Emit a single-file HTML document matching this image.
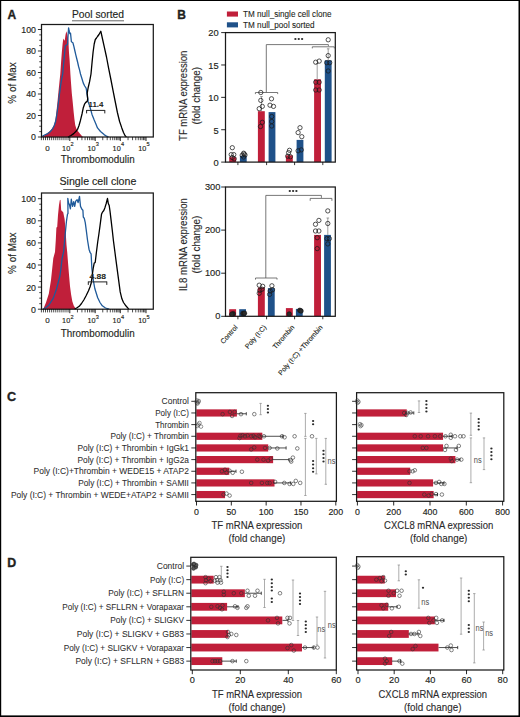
<!DOCTYPE html>
<html><head><meta charset="utf-8"><style>
html,body{margin:0;padding:0;background:#fff;width:520px;height:717px;overflow:hidden}
svg{display:block}
text{font-family:"Liberation Sans",sans-serif;fill:#231f20;stroke:#231f20;stroke-width:0.15px}
</style></head><body>
<svg width="520" height="717" viewBox="0 0 520 717">
<rect x="0" y="0" width="520" height="717" fill="#fff"/>
<text x="7.6" y="18.8" font-size="12" font-weight="bold" style="stroke-width:0.35px">A</text>
<text x="7.1" y="400.8" font-size="12.7" font-weight="bold" style="stroke-width:0.35px">C</text>
<text x="7.2" y="567.4" font-size="12.4" font-weight="bold" style="stroke-width:0.35px">D</text>
<text x="177.3" y="18.8" font-size="12" font-weight="bold" style="stroke-width:0.35px">B</text>
<text x="72" y="18.4" font-size="10.8" textLength="52" lengthAdjust="spacingAndGlyphs">Pool sorted</text>
<line x1="72" y1="20.8" x2="124" y2="20.8" stroke="#555" stroke-width="0.9"/>
<polyline points="42,137 44.5,135.2 47.8,132.7 50.5,130.5 52.6,127.8 54.2,124.5 55.5,119.2 56.5,111 57.4,102.8 58.1,95.5 58.8,88.4 59.6,80.5 60.3,74 61.1,62 61.8,52.8 62.6,44 63.3,38.4 64,39.8 64.7,40.8 65.5,35 66.3,31.2 67.2,34 68.1,38.4 68.6,45 69,52.8 69.6,60 70.4,74 71.1,84 71.8,93.2 72.8,103 73.7,112.5 74.4,119 75.2,125 76.3,128.5 77.6,130.7 80,133.8 82.4,136.5 84,137.2" fill="#c01f3a"/>
<polyline points="42,136.5 44.5,135 47.8,133.6 50.5,131.4 52.6,128.8 54.2,125.8 55.5,122 56.5,116.5 57.4,110.5 58.4,103 59.3,95.2 60.3,88 61.2,81.7 62,77.5 62.7,74 63.5,65 64.2,57.7 64.8,51 65.4,45.6 66.5,45 67.6,44.2 68.1,35 68.6,27.8 69.2,31 69.8,33.6 70.5,33.1 71.4,41.8 72.9,42.75 73.8,46.1 74.8,50.5 75.8,54.8 76.7,58.5 77.7,62.5 78.6,66.5 79.6,70.2 80.5,74 81.9,78.5 83.3,83.1 84.7,86 86.2,88.4 87.2,95.2 88.2,101.9 89.6,105.7 90.8,110 92,114.4 94,119.5 95.8,123.8 97.5,127.9 100.5,131.5 104.1,134.6 106.5,136.2 108.6,137" fill="none" stroke="#1f5a9a" stroke-width="1.3" stroke-linejoin="round"/>
<polyline points="68,137.1 71,135.5 73.7,133.6 75.8,131.5 77.6,129.3 79,125.5 80.5,120.2 82,114 83.3,107.7 84.5,104.2 85.75,102.4 87.2,101.4 87.7,99 87.4,95.5 87.2,93.2 88.2,87.5 89.6,81.7 91,74 92.1,62 93.1,52 94.2,44 95.3,39.5 96.5,38 97.5,36.5 99,34.5 100.8,31.2 102.3,38 104.1,46.1 106.5,57 108.6,68.2 110.8,79 113,90.3 115.2,101.5 117.4,112.5 119.6,121.5 121.8,127.9 123.5,132.5 125.1,135.7 126.5,137.1" fill="none" stroke="#000" stroke-width="1.3" stroke-linejoin="round"/>
<rect x="41.5" y="24.5" width="111.8" height="112.5" fill="none" stroke="#1a1a1a" stroke-width="1.25"/>
<line x1="37.9" y1="137" x2="41.5" y2="137" stroke="#000" stroke-width="0.8"/>
<text x="36" y="140" font-size="8.8" text-anchor="end">0</text>
<line x1="39.2" y1="131.62" x2="41.5" y2="131.62" stroke="#000" stroke-width="0.7"/>
<line x1="39.2" y1="126.25" x2="41.5" y2="126.25" stroke="#000" stroke-width="0.7"/>
<line x1="39.2" y1="120.88" x2="41.5" y2="120.88" stroke="#000" stroke-width="0.7"/>
<line x1="37.9" y1="115.5" x2="41.5" y2="115.5" stroke="#000" stroke-width="0.8"/>
<text x="36" y="118.5" font-size="8.8" text-anchor="end">20</text>
<line x1="39.2" y1="110.12" x2="41.5" y2="110.12" stroke="#000" stroke-width="0.7"/>
<line x1="39.2" y1="104.75" x2="41.5" y2="104.75" stroke="#000" stroke-width="0.7"/>
<line x1="39.2" y1="99.38" x2="41.5" y2="99.38" stroke="#000" stroke-width="0.7"/>
<line x1="37.9" y1="94" x2="41.5" y2="94" stroke="#000" stroke-width="0.8"/>
<text x="36" y="97" font-size="8.8" text-anchor="end">40</text>
<line x1="39.2" y1="88.62" x2="41.5" y2="88.62" stroke="#000" stroke-width="0.7"/>
<line x1="39.2" y1="83.25" x2="41.5" y2="83.25" stroke="#000" stroke-width="0.7"/>
<line x1="39.2" y1="77.88" x2="41.5" y2="77.88" stroke="#000" stroke-width="0.7"/>
<line x1="37.9" y1="72.5" x2="41.5" y2="72.5" stroke="#000" stroke-width="0.8"/>
<text x="36" y="75.5" font-size="8.8" text-anchor="end">60</text>
<line x1="39.2" y1="67.12" x2="41.5" y2="67.12" stroke="#000" stroke-width="0.7"/>
<line x1="39.2" y1="61.75" x2="41.5" y2="61.75" stroke="#000" stroke-width="0.7"/>
<line x1="39.2" y1="56.38" x2="41.5" y2="56.38" stroke="#000" stroke-width="0.7"/>
<line x1="37.9" y1="51" x2="41.5" y2="51" stroke="#000" stroke-width="0.8"/>
<text x="36" y="54" font-size="8.8" text-anchor="end">80</text>
<line x1="39.2" y1="45.62" x2="41.5" y2="45.62" stroke="#000" stroke-width="0.7"/>
<line x1="39.2" y1="40.25" x2="41.5" y2="40.25" stroke="#000" stroke-width="0.7"/>
<line x1="39.2" y1="34.88" x2="41.5" y2="34.88" stroke="#000" stroke-width="0.7"/>
<line x1="37.9" y1="29.5" x2="41.5" y2="29.5" stroke="#000" stroke-width="0.8"/>
<text x="36" y="32.5" font-size="8.8" text-anchor="end">100</text>
<line x1="41.4" y1="137" x2="41.4" y2="140.2" stroke="#000" stroke-width="0.7"/>
<line x1="43.45" y1="137" x2="43.45" y2="140.2" stroke="#000" stroke-width="0.7"/>
<line x1="45.5" y1="137" x2="45.5" y2="140.2" stroke="#000" stroke-width="0.7"/>
<line x1="47.55" y1="137" x2="47.55" y2="140.2" stroke="#000" stroke-width="0.7"/>
<line x1="49.6" y1="137" x2="49.6" y2="140.2" stroke="#000" stroke-width="0.7"/>
<line x1="51.65" y1="137" x2="51.65" y2="140.2" stroke="#000" stroke-width="0.7"/>
<line x1="53.7" y1="137" x2="53.7" y2="140.2" stroke="#000" stroke-width="0.7"/>
<line x1="55.75" y1="137" x2="55.75" y2="140.2" stroke="#000" stroke-width="0.7"/>
<line x1="57.8" y1="137" x2="57.8" y2="140.2" stroke="#000" stroke-width="0.7"/>
<line x1="59.85" y1="137" x2="59.85" y2="140.2" stroke="#000" stroke-width="0.7"/>
<line x1="61.9" y1="137" x2="61.9" y2="140.2" stroke="#000" stroke-width="0.7"/>
<line x1="63.95" y1="137" x2="63.95" y2="140.2" stroke="#000" stroke-width="0.7"/>
<line x1="66" y1="137" x2="66" y2="140.2" stroke="#000" stroke-width="0.7"/>
<line x1="68.05" y1="137" x2="68.05" y2="140.2" stroke="#000" stroke-width="0.7"/>
<line x1="77.45" y1="137" x2="77.45" y2="140.2" stroke="#000" stroke-width="0.7"/>
<line x1="81.92" y1="137" x2="81.92" y2="140.2" stroke="#000" stroke-width="0.7"/>
<line x1="85.09" y1="137" x2="85.09" y2="140.2" stroke="#000" stroke-width="0.7"/>
<line x1="87.55" y1="137" x2="87.55" y2="140.2" stroke="#000" stroke-width="0.7"/>
<line x1="89.57" y1="137" x2="89.57" y2="140.2" stroke="#000" stroke-width="0.7"/>
<line x1="91.27" y1="137" x2="91.27" y2="140.2" stroke="#000" stroke-width="0.7"/>
<line x1="92.74" y1="137" x2="92.74" y2="140.2" stroke="#000" stroke-width="0.7"/>
<line x1="94.04" y1="137" x2="94.04" y2="140.2" stroke="#000" stroke-width="0.7"/>
<line x1="102.76" y1="137" x2="102.76" y2="140.2" stroke="#000" stroke-width="0.7"/>
<line x1="107.18" y1="137" x2="107.18" y2="140.2" stroke="#000" stroke-width="0.7"/>
<line x1="110.31" y1="137" x2="110.31" y2="140.2" stroke="#000" stroke-width="0.7"/>
<line x1="112.74" y1="137" x2="112.74" y2="140.2" stroke="#000" stroke-width="0.7"/>
<line x1="114.73" y1="137" x2="114.73" y2="140.2" stroke="#000" stroke-width="0.7"/>
<line x1="116.41" y1="137" x2="116.41" y2="140.2" stroke="#000" stroke-width="0.7"/>
<line x1="117.87" y1="137" x2="117.87" y2="140.2" stroke="#000" stroke-width="0.7"/>
<line x1="119.15" y1="137" x2="119.15" y2="140.2" stroke="#000" stroke-width="0.7"/>
<line x1="128.04" y1="137" x2="128.04" y2="140.2" stroke="#000" stroke-width="0.7"/>
<line x1="132.56" y1="137" x2="132.56" y2="140.2" stroke="#000" stroke-width="0.7"/>
<line x1="135.77" y1="137" x2="135.77" y2="140.2" stroke="#000" stroke-width="0.7"/>
<line x1="138.26" y1="137" x2="138.26" y2="140.2" stroke="#000" stroke-width="0.7"/>
<line x1="140.3" y1="137" x2="140.3" y2="140.2" stroke="#000" stroke-width="0.7"/>
<line x1="142.02" y1="137" x2="142.02" y2="140.2" stroke="#000" stroke-width="0.7"/>
<line x1="143.51" y1="137" x2="143.51" y2="140.2" stroke="#000" stroke-width="0.7"/>
<line x1="144.82" y1="137" x2="144.82" y2="140.2" stroke="#000" stroke-width="0.7"/>
<line x1="69.8" y1="137" x2="69.8" y2="141" stroke="#000" stroke-width="0.85"/>
<line x1="95.2" y1="137" x2="95.2" y2="141" stroke="#000" stroke-width="0.85"/>
<line x1="120.3" y1="137" x2="120.3" y2="141" stroke="#000" stroke-width="0.85"/>
<line x1="146" y1="137" x2="146" y2="141" stroke="#000" stroke-width="0.85"/>
<text x="47.5" y="150.8" font-size="8" text-anchor="middle">0</text>
<text x="70.2" y="150.8" font-size="7.8" text-anchor="end" textLength="8.1" lengthAdjust="spacingAndGlyphs">10</text>
<text x="70.4" y="146.1" font-size="5.6">2</text>
<text x="95.6" y="150.8" font-size="7.8" text-anchor="end" textLength="8.1" lengthAdjust="spacingAndGlyphs">10</text>
<text x="95.8" y="146.1" font-size="5.6">3</text>
<text x="120.7" y="150.8" font-size="7.8" text-anchor="end" textLength="8.1" lengthAdjust="spacingAndGlyphs">10</text>
<text x="120.9" y="146.1" font-size="5.6">4</text>
<text x="146.4" y="150.8" font-size="7.8" text-anchor="end" textLength="8.1" lengthAdjust="spacingAndGlyphs">10</text>
<text x="146.6" y="146.1" font-size="5.6">5</text>
<text x="60.8" y="163.4" font-size="10.8" textLength="73.8" lengthAdjust="spacingAndGlyphs">Thrombomodulin</text>
<text x="16.3" y="83" font-size="10.4" text-anchor="middle" textLength="41.4" lengthAdjust="spacingAndGlyphs" transform="rotate(-90 16.3 83)">% of Max</text>
<line x1="86.6" y1="110.4" x2="104.8" y2="110.4" stroke="#222" stroke-width="1"/>
<line x1="86.6" y1="110" x2="86.6" y2="113.4" stroke="#222" stroke-width="1"/>
<line x1="104.8" y1="110" x2="104.8" y2="113.4" stroke="#222" stroke-width="1"/>
<text x="95.9" y="107.1" font-size="7.9" text-anchor="middle" font-weight="bold" textLength="14.9" lengthAdjust="spacingAndGlyphs" style="stroke-width:0.05px">11.4</text>
<text x="59.5" y="185" font-size="10.8" textLength="76.8" lengthAdjust="spacingAndGlyphs">Single cell clone</text>
<line x1="63.2" y1="189.5" x2="132.6" y2="189.5" stroke="#555" stroke-width="0.9"/>
<polyline points="43.3,309 46,302.5 48.8,293.7 51,280 53.3,258.3 55,252 55.8,240 56.4,227.6 57.2,227.1 58,215 59,205 59.8,200.2 60.5,199.7 61.2,210.3 62.2,211.2 63.2,212.2 64.6,218.9 65.6,230.5 66.5,244.9 67.2,252 68.3,266 69.2,277 70,286.2 71.1,294.5 72.3,301.2 73.7,305.5 75.2,308 76.5,309.2" fill="#c01f3a"/>
<polyline points="43.3,309 46,307.5 49,305 53.3,298.1 56.5,289 59.9,276 61,268 62.1,258.3 63.6,252 65.1,235.3 66.5,220.8 67.5,214.1 68,213.5 67.8,198.3 68.6,203 69.4,204.5 70.4,208.8 71.3,199.2 72,203.5 72.6,206.4 73.7,201.6 74.7,206.4 75.7,201.1 77.1,199.7 78.1,202.6 79.5,196.3 80.5,206.4 81.9,209.3 82.9,210.3 83.3,217 84.3,218.4 85.3,222.8 86.5,232 87.5,240 89,249.2 90.2,252.7 91.1,253.8 91.9,268.8 93.1,279.2 94.8,288.5 97.7,297.7 100,302.5 102.3,305.8 105.5,308 109.2,309.1" fill="none" stroke="#1f5a9a" stroke-width="1.3" stroke-linejoin="round"/>
<polyline points="74.6,309.1 77,307.8 79.2,306.3 81.5,303.5 83.8,300 86.2,295.5 88.5,290.8 90,287 91.3,282.7 92.5,273.5 93.1,268.8 94.2,263.1 95.2,262.5 96.5,251.5 97.7,242 98.9,234 100,225.8 101.5,214.3 102.3,212.4 103.8,210.5 105,207.4 106.2,203.5 107.5,198.5 108.3,203.5 109.2,205.5 110,211.2 111.2,221.2 112.3,230.5 113.5,241.2 115.6,257.3 117.9,274.6 120.2,291.9 121.9,298.8 123.5,302.5 125.4,305.2 128.8,309.1" fill="none" stroke="#000" stroke-width="1.3" stroke-linejoin="round"/>
<rect x="41.5" y="193.0" width="111.8" height="116.2" fill="none" stroke="#1a1a1a" stroke-width="1.25"/>
<line x1="37.9" y1="309.2" x2="41.5" y2="309.2" stroke="#000" stroke-width="0.8"/>
<text x="36" y="312.7" font-size="8.8" text-anchor="end">0</text>
<line x1="39.2" y1="303.68" x2="41.5" y2="303.68" stroke="#000" stroke-width="0.7"/>
<line x1="39.2" y1="298.15" x2="41.5" y2="298.15" stroke="#000" stroke-width="0.7"/>
<line x1="39.2" y1="292.62" x2="41.5" y2="292.62" stroke="#000" stroke-width="0.7"/>
<line x1="37.9" y1="287.1" x2="41.5" y2="287.1" stroke="#000" stroke-width="0.8"/>
<text x="36" y="290.6" font-size="8.8" text-anchor="end">20</text>
<line x1="39.2" y1="281.57" x2="41.5" y2="281.57" stroke="#000" stroke-width="0.7"/>
<line x1="39.2" y1="276.05" x2="41.5" y2="276.05" stroke="#000" stroke-width="0.7"/>
<line x1="39.2" y1="270.52" x2="41.5" y2="270.52" stroke="#000" stroke-width="0.7"/>
<line x1="37.9" y1="265" x2="41.5" y2="265" stroke="#000" stroke-width="0.8"/>
<text x="36" y="268.5" font-size="8.8" text-anchor="end">40</text>
<line x1="39.2" y1="259.47" x2="41.5" y2="259.47" stroke="#000" stroke-width="0.7"/>
<line x1="39.2" y1="253.95" x2="41.5" y2="253.95" stroke="#000" stroke-width="0.7"/>
<line x1="39.2" y1="248.42" x2="41.5" y2="248.42" stroke="#000" stroke-width="0.7"/>
<line x1="37.9" y1="242.9" x2="41.5" y2="242.9" stroke="#000" stroke-width="0.8"/>
<text x="36" y="246.4" font-size="8.8" text-anchor="end">60</text>
<line x1="39.2" y1="237.38" x2="41.5" y2="237.38" stroke="#000" stroke-width="0.7"/>
<line x1="39.2" y1="231.85" x2="41.5" y2="231.85" stroke="#000" stroke-width="0.7"/>
<line x1="39.2" y1="226.32" x2="41.5" y2="226.32" stroke="#000" stroke-width="0.7"/>
<line x1="37.9" y1="220.8" x2="41.5" y2="220.8" stroke="#000" stroke-width="0.8"/>
<text x="36" y="224.3" font-size="8.8" text-anchor="end">80</text>
<line x1="39.2" y1="215.27" x2="41.5" y2="215.27" stroke="#000" stroke-width="0.7"/>
<line x1="39.2" y1="209.75" x2="41.5" y2="209.75" stroke="#000" stroke-width="0.7"/>
<line x1="39.2" y1="204.22" x2="41.5" y2="204.22" stroke="#000" stroke-width="0.7"/>
<line x1="37.9" y1="198.7" x2="41.5" y2="198.7" stroke="#000" stroke-width="0.8"/>
<text x="36" y="202.2" font-size="8.8" text-anchor="end">100</text>
<line x1="41.4" y1="309.2" x2="41.4" y2="312.4" stroke="#000" stroke-width="0.7"/>
<line x1="43.45" y1="309.2" x2="43.45" y2="312.4" stroke="#000" stroke-width="0.7"/>
<line x1="45.5" y1="309.2" x2="45.5" y2="312.4" stroke="#000" stroke-width="0.7"/>
<line x1="47.55" y1="309.2" x2="47.55" y2="312.4" stroke="#000" stroke-width="0.7"/>
<line x1="49.6" y1="309.2" x2="49.6" y2="312.4" stroke="#000" stroke-width="0.7"/>
<line x1="51.65" y1="309.2" x2="51.65" y2="312.4" stroke="#000" stroke-width="0.7"/>
<line x1="53.7" y1="309.2" x2="53.7" y2="312.4" stroke="#000" stroke-width="0.7"/>
<line x1="55.75" y1="309.2" x2="55.75" y2="312.4" stroke="#000" stroke-width="0.7"/>
<line x1="57.8" y1="309.2" x2="57.8" y2="312.4" stroke="#000" stroke-width="0.7"/>
<line x1="59.85" y1="309.2" x2="59.85" y2="312.4" stroke="#000" stroke-width="0.7"/>
<line x1="61.9" y1="309.2" x2="61.9" y2="312.4" stroke="#000" stroke-width="0.7"/>
<line x1="63.95" y1="309.2" x2="63.95" y2="312.4" stroke="#000" stroke-width="0.7"/>
<line x1="66" y1="309.2" x2="66" y2="312.4" stroke="#000" stroke-width="0.7"/>
<line x1="68.05" y1="309.2" x2="68.05" y2="312.4" stroke="#000" stroke-width="0.7"/>
<line x1="77.45" y1="309.2" x2="77.45" y2="312.4" stroke="#000" stroke-width="0.7"/>
<line x1="81.92" y1="309.2" x2="81.92" y2="312.4" stroke="#000" stroke-width="0.7"/>
<line x1="85.09" y1="309.2" x2="85.09" y2="312.4" stroke="#000" stroke-width="0.7"/>
<line x1="87.55" y1="309.2" x2="87.55" y2="312.4" stroke="#000" stroke-width="0.7"/>
<line x1="89.57" y1="309.2" x2="89.57" y2="312.4" stroke="#000" stroke-width="0.7"/>
<line x1="91.27" y1="309.2" x2="91.27" y2="312.4" stroke="#000" stroke-width="0.7"/>
<line x1="92.74" y1="309.2" x2="92.74" y2="312.4" stroke="#000" stroke-width="0.7"/>
<line x1="94.04" y1="309.2" x2="94.04" y2="312.4" stroke="#000" stroke-width="0.7"/>
<line x1="102.76" y1="309.2" x2="102.76" y2="312.4" stroke="#000" stroke-width="0.7"/>
<line x1="107.18" y1="309.2" x2="107.18" y2="312.4" stroke="#000" stroke-width="0.7"/>
<line x1="110.31" y1="309.2" x2="110.31" y2="312.4" stroke="#000" stroke-width="0.7"/>
<line x1="112.74" y1="309.2" x2="112.74" y2="312.4" stroke="#000" stroke-width="0.7"/>
<line x1="114.73" y1="309.2" x2="114.73" y2="312.4" stroke="#000" stroke-width="0.7"/>
<line x1="116.41" y1="309.2" x2="116.41" y2="312.4" stroke="#000" stroke-width="0.7"/>
<line x1="117.87" y1="309.2" x2="117.87" y2="312.4" stroke="#000" stroke-width="0.7"/>
<line x1="119.15" y1="309.2" x2="119.15" y2="312.4" stroke="#000" stroke-width="0.7"/>
<line x1="128.04" y1="309.2" x2="128.04" y2="312.4" stroke="#000" stroke-width="0.7"/>
<line x1="132.56" y1="309.2" x2="132.56" y2="312.4" stroke="#000" stroke-width="0.7"/>
<line x1="135.77" y1="309.2" x2="135.77" y2="312.4" stroke="#000" stroke-width="0.7"/>
<line x1="138.26" y1="309.2" x2="138.26" y2="312.4" stroke="#000" stroke-width="0.7"/>
<line x1="140.3" y1="309.2" x2="140.3" y2="312.4" stroke="#000" stroke-width="0.7"/>
<line x1="142.02" y1="309.2" x2="142.02" y2="312.4" stroke="#000" stroke-width="0.7"/>
<line x1="143.51" y1="309.2" x2="143.51" y2="312.4" stroke="#000" stroke-width="0.7"/>
<line x1="144.82" y1="309.2" x2="144.82" y2="312.4" stroke="#000" stroke-width="0.7"/>
<line x1="69.8" y1="309.2" x2="69.8" y2="313.2" stroke="#000" stroke-width="0.85"/>
<line x1="95.2" y1="309.2" x2="95.2" y2="313.2" stroke="#000" stroke-width="0.85"/>
<line x1="120.3" y1="309.2" x2="120.3" y2="313.2" stroke="#000" stroke-width="0.85"/>
<line x1="146" y1="309.2" x2="146" y2="313.2" stroke="#000" stroke-width="0.85"/>
<text x="47.5" y="323.2" font-size="8" text-anchor="middle">0</text>
<text x="70.2" y="323.2" font-size="7.8" text-anchor="end" textLength="8.1" lengthAdjust="spacingAndGlyphs">10</text>
<text x="70.4" y="318.5" font-size="5.6">2</text>
<text x="95.6" y="323.2" font-size="7.8" text-anchor="end" textLength="8.1" lengthAdjust="spacingAndGlyphs">10</text>
<text x="95.8" y="318.5" font-size="5.6">3</text>
<text x="120.7" y="323.2" font-size="7.8" text-anchor="end" textLength="8.1" lengthAdjust="spacingAndGlyphs">10</text>
<text x="120.9" y="318.5" font-size="5.6">4</text>
<text x="146.4" y="323.2" font-size="7.8" text-anchor="end" textLength="8.1" lengthAdjust="spacingAndGlyphs">10</text>
<text x="146.6" y="318.5" font-size="5.6">5</text>
<text x="60.8" y="337.4" font-size="10.8" textLength="73.8" lengthAdjust="spacingAndGlyphs">Thrombomodulin</text>
<text x="16.3" y="253.19" font-size="10.4" text-anchor="middle" textLength="41.4" lengthAdjust="spacingAndGlyphs" transform="rotate(-90 16.3 253.19)">% of Max</text>
<line x1="88.3" y1="281.9" x2="106.8" y2="281.9" stroke="#222" stroke-width="1"/>
<line x1="88.3" y1="281.5" x2="88.3" y2="284.9" stroke="#222" stroke-width="1"/>
<line x1="106.8" y1="281.5" x2="106.8" y2="284.9" stroke="#222" stroke-width="1"/>
<text x="97.75" y="278.6" font-size="7.9" text-anchor="middle" font-weight="bold" textLength="16.6" lengthAdjust="spacingAndGlyphs" style="stroke-width:0.05px">4.88</text>
<rect x="226.9" y="11.5" width="11.1" height="5.1" fill="#c01f3a"/>
<rect x="226.9" y="22.3" width="11.1" height="5.1" fill="#1f5189"/>
<text x="243.1" y="16.8" font-size="8.9" textLength="88.4" lengthAdjust="spacingAndGlyphs" style="stroke-width:0.1px">TM null_single cell clone</text>
<text x="243.1" y="27.5" font-size="8.9" textLength="71.5" lengthAdjust="spacingAndGlyphs" style="stroke-width:0.1px">TM null_pool sorted</text>
<rect x="229.2" y="157.2" width="6.9" height="4.9" fill="#c01f3a"/>
<rect x="239.9" y="155.8" width="6.8" height="6.3" fill="#1f5189"/>
<rect x="257.9" y="111.2" width="6.9" height="50.9" fill="#c01f3a"/>
<rect x="268.6" y="112.1" width="6.8" height="50" fill="#1f5189"/>
<rect x="285.9" y="155.3" width="6.9" height="6.8" fill="#c01f3a"/>
<rect x="296.6" y="139.9" width="6.8" height="22.2" fill="#1f5189"/>
<rect x="314.1" y="79.3" width="6.9" height="82.8" fill="#c01f3a"/>
<rect x="324.8" y="60.3" width="6.8" height="101.8" fill="#1f5189"/>
<rect x="225.5" y="32.6" width="109.8" height="129.5" fill="none" stroke="#1a1a1a" stroke-width="1.25"/>
<line x1="221.2" y1="162.1" x2="225.5" y2="162.1" stroke="#000" stroke-width="0.85"/>
<text x="218.6" y="165.9" font-size="9.3" text-anchor="end">0</text>
<line x1="221.2" y1="129.72" x2="225.5" y2="129.72" stroke="#000" stroke-width="0.85"/>
<text x="218.6" y="133.53" font-size="9.3" text-anchor="end">5</text>
<line x1="221.2" y1="97.35" x2="225.5" y2="97.35" stroke="#000" stroke-width="0.85"/>
<text x="218.6" y="101.15" font-size="9.3" text-anchor="end">10</text>
<line x1="221.2" y1="64.97" x2="225.5" y2="64.97" stroke="#000" stroke-width="0.85"/>
<text x="218.6" y="68.77" font-size="9.3" text-anchor="end">15</text>
<line x1="221.2" y1="32.6" x2="225.5" y2="32.6" stroke="#000" stroke-width="0.85"/>
<text x="218.6" y="36.4" font-size="9.3" text-anchor="end">20</text>
<line x1="237.9" y1="162.1" x2="237.9" y2="165.1" stroke="#000" stroke-width="0.8"/>
<line x1="266.6" y1="162.1" x2="266.6" y2="165.1" stroke="#000" stroke-width="0.8"/>
<line x1="294.6" y1="162.1" x2="294.6" y2="165.1" stroke="#000" stroke-width="0.8"/>
<line x1="322.8" y1="162.1" x2="322.8" y2="165.1" stroke="#000" stroke-width="0.8"/>
<text x="186.9" y="95.8" font-size="10.6" text-anchor="middle" textLength="90.2" lengthAdjust="spacingAndGlyphs" style="fill:#2a2a2a;stroke:#2a2a2a;stroke-width:0.12px" transform="rotate(-90 186.9 95.8)">TF mRNA expression</text>
<text x="200" y="95.8" font-size="10.2" text-anchor="middle" textLength="57.6" lengthAdjust="spacingAndGlyphs" style="fill:#2a2a2a;stroke:#2a2a2a;stroke-width:0.12px" transform="rotate(-90 200 95.8)">(fold change)</text>
<rect x="229.2" y="309.2" width="6.9" height="7.1" fill="#c01f3a"/>
<rect x="239.2" y="309.2" width="6.8" height="7.1" fill="#1f5189"/>
<rect x="257.9" y="287.5" width="6.9" height="28.8" fill="#c01f3a"/>
<rect x="267.9" y="288.1" width="6.8" height="28.2" fill="#1f5189"/>
<rect x="285.9" y="308.1" width="6.9" height="8.2" fill="#c01f3a"/>
<rect x="295.9" y="308.9" width="6.8" height="7.4" fill="#1f5189"/>
<rect x="314.1" y="234.9" width="6.9" height="81.4" fill="#c01f3a"/>
<rect x="324.1" y="234.9" width="6.8" height="81.4" fill="#1f5189"/>
<rect x="225.5" y="187.0" width="109.8" height="129.3" fill="none" stroke="#1a1a1a" stroke-width="1.25"/>
<line x1="221.2" y1="316.3" x2="225.5" y2="316.3" stroke="#000" stroke-width="0.85"/>
<text x="220.4" y="319.4" font-size="9.3" text-anchor="end">0</text>
<line x1="221.2" y1="273.2" x2="225.5" y2="273.2" stroke="#000" stroke-width="0.85"/>
<text x="220.4" y="276.3" font-size="9.3" text-anchor="end">100</text>
<line x1="221.2" y1="230.1" x2="225.5" y2="230.1" stroke="#000" stroke-width="0.85"/>
<text x="220.4" y="233.2" font-size="9.3" text-anchor="end">200</text>
<line x1="221.2" y1="187" x2="225.5" y2="187" stroke="#000" stroke-width="0.85"/>
<text x="220.4" y="190.1" font-size="9.3" text-anchor="end">300</text>
<line x1="237.9" y1="316.3" x2="237.9" y2="319.3" stroke="#000" stroke-width="0.8"/>
<line x1="266.6" y1="316.3" x2="266.6" y2="319.3" stroke="#000" stroke-width="0.8"/>
<line x1="294.6" y1="316.3" x2="294.6" y2="319.3" stroke="#000" stroke-width="0.8"/>
<line x1="322.8" y1="316.3" x2="322.8" y2="319.3" stroke="#000" stroke-width="0.8"/>
<text x="186.9" y="244.6" font-size="10.6" text-anchor="middle" textLength="93" lengthAdjust="spacingAndGlyphs" style="fill:#2a2a2a;stroke:#2a2a2a;stroke-width:0.12px" transform="rotate(-90 186.9 244.6)">IL8 mRNA expression</text>
<text x="200" y="244.6" font-size="10.2" text-anchor="middle" textLength="57.6" lengthAdjust="spacingAndGlyphs" style="fill:#2a2a2a;stroke:#2a2a2a;stroke-width:0.12px" transform="rotate(-90 200 244.6)">(fold change)</text>
<text x="238.1" y="327.6" font-size="6.9" text-anchor="end" style="stroke-width:0.12px" transform="rotate(-49 238.1 327.6)">Control</text>
<text x="266.8" y="327.6" font-size="6.9" text-anchor="end" style="stroke-width:0.12px" transform="rotate(-49 266.8 327.6)">Poly (I:C)</text>
<text x="294.8" y="327.6" font-size="6.9" text-anchor="end" style="stroke-width:0.12px" transform="rotate(-49 294.8 327.6)">Thrombin</text>
<text x="323" y="327.6" font-size="6.9" text-anchor="end" style="stroke-width:0.12px" transform="rotate(-49 323 327.6)">Poly (I:C) +Thrombin</text>
<line x1="255.4" y1="92.5" x2="277.7" y2="92.5" stroke="#555" stroke-width="0.8"/>
<line x1="255.4" y1="92.5" x2="255.4" y2="94.1" stroke="#555" stroke-width="0.8"/>
<line x1="277.7" y1="92.5" x2="277.7" y2="94.1" stroke="#555" stroke-width="0.8"/>
<line x1="266.3" y1="92.5" x2="266.3" y2="44.6" stroke="#555" stroke-width="0.8"/>
<line x1="266.3" y1="44.6" x2="328.4" y2="44.6" stroke="#555" stroke-width="0.8"/>
<line x1="328.4" y1="44.6" x2="328.4" y2="46.2" stroke="#555" stroke-width="0.8"/>
<line x1="312.3" y1="46.8" x2="334.3" y2="46.8" stroke="#555" stroke-width="0.8"/>
<line x1="312.3" y1="46.8" x2="312.3" y2="48.4" stroke="#555" stroke-width="0.8"/>
<line x1="334.3" y1="46.8" x2="334.3" y2="48.4" stroke="#555" stroke-width="0.8"/>
<line x1="255.5" y1="278" x2="277" y2="278" stroke="#555" stroke-width="0.8"/>
<line x1="255.5" y1="278" x2="255.5" y2="279.6" stroke="#555" stroke-width="0.8"/>
<line x1="277" y1="278" x2="277" y2="279.6" stroke="#555" stroke-width="0.8"/>
<line x1="265.8" y1="278" x2="265.8" y2="195.4" stroke="#555" stroke-width="0.8"/>
<line x1="265.8" y1="195.4" x2="321.4" y2="195.4" stroke="#555" stroke-width="0.8"/>
<line x1="321.4" y1="195.4" x2="321.4" y2="197.9" stroke="#555" stroke-width="0.8"/>
<line x1="310.2" y1="198.4" x2="331.9" y2="198.4" stroke="#555" stroke-width="0.8"/>
<line x1="310.2" y1="198.4" x2="310.2" y2="200.8" stroke="#555" stroke-width="0.8"/>
<line x1="331.9" y1="198.4" x2="331.9" y2="200.8" stroke="#555" stroke-width="0.8"/>
<rect x="196.3" y="409.36" width="40.6" height="7.2" fill="#c01f3a"/>
<rect x="196.3" y="432.68" width="66.02" height="7.2" fill="#c01f3a"/>
<rect x="196.3" y="444.34" width="71.94" height="7.2" fill="#c01f3a"/>
<rect x="196.3" y="456" width="76.81" height="7.2" fill="#c01f3a"/>
<rect x="196.3" y="467.66" width="32.94" height="7.2" fill="#c01f3a"/>
<rect x="196.3" y="479.32" width="78.21" height="7.2" fill="#c01f3a"/>
<rect x="196.3" y="490.98" width="28.76" height="7.2" fill="#c01f3a"/>
<rect x="195.8" y="392.7" width="140.6" height="108.6" fill="none" stroke="#1a1a1a" stroke-width="1.25"/>
<line x1="196.5" y1="501.3" x2="196.5" y2="505.5" stroke="#000" stroke-width="0.85"/>
<text x="196.5" y="515.1" font-size="8.8" text-anchor="middle">0</text>
<line x1="231.32" y1="501.3" x2="231.32" y2="505.5" stroke="#000" stroke-width="0.85"/>
<text x="231.32" y="515.1" font-size="8.8" text-anchor="middle">50</text>
<line x1="266.15" y1="501.3" x2="266.15" y2="505.5" stroke="#000" stroke-width="0.85"/>
<text x="266.15" y="515.1" font-size="8.8" text-anchor="middle">100</text>
<line x1="300.98" y1="501.3" x2="300.98" y2="505.5" stroke="#000" stroke-width="0.85"/>
<text x="300.98" y="515.1" font-size="8.8" text-anchor="middle">150</text>
<line x1="335.8" y1="501.3" x2="335.8" y2="505.5" stroke="#000" stroke-width="0.85"/>
<text x="335.8" y="515.1" font-size="8.8" text-anchor="middle">200</text>
<line x1="191.3" y1="401.3" x2="195.8" y2="401.3" stroke="#000" stroke-width="0.8"/>
<line x1="191.3" y1="412.96" x2="195.8" y2="412.96" stroke="#000" stroke-width="0.8"/>
<line x1="191.3" y1="424.62" x2="195.8" y2="424.62" stroke="#000" stroke-width="0.8"/>
<line x1="191.3" y1="436.28" x2="195.8" y2="436.28" stroke="#000" stroke-width="0.8"/>
<line x1="191.3" y1="447.94" x2="195.8" y2="447.94" stroke="#000" stroke-width="0.8"/>
<line x1="191.3" y1="459.6" x2="195.8" y2="459.6" stroke="#000" stroke-width="0.8"/>
<line x1="191.3" y1="471.26" x2="195.8" y2="471.26" stroke="#000" stroke-width="0.8"/>
<line x1="191.3" y1="482.92" x2="195.8" y2="482.92" stroke="#000" stroke-width="0.8"/>
<line x1="191.3" y1="494.58" x2="195.8" y2="494.58" stroke="#000" stroke-width="0.8"/>
<text x="256.9" y="529.1" font-size="11" text-anchor="middle" textLength="90.8" lengthAdjust="spacingAndGlyphs" style="fill:#2a2a2a;stroke:#2a2a2a;stroke-width:0.12px">TF mRNA expression</text>
<text x="256.9" y="541.6" font-size="11" text-anchor="middle" textLength="56.9" lengthAdjust="spacingAndGlyphs" style="fill:#2a2a2a;stroke:#2a2a2a;stroke-width:0.12px">(fold change)</text>
<rect x="357.1" y="409.36" width="49.67" height="7.2" fill="#c01f3a"/>
<rect x="357.1" y="432.68" width="85.97" height="7.2" fill="#c01f3a"/>
<rect x="357.1" y="444.34" width="85.97" height="7.2" fill="#c01f3a"/>
<rect x="357.1" y="456" width="98.31" height="7.2" fill="#c01f3a"/>
<rect x="357.1" y="467.66" width="53.12" height="7.2" fill="#c01f3a"/>
<rect x="357.1" y="479.32" width="75.99" height="7.2" fill="#c01f3a"/>
<rect x="357.1" y="490.98" width="76.53" height="7.2" fill="#c01f3a"/>
<rect x="356.6" y="392.7" width="147.2" height="108.6" fill="none" stroke="#1a1a1a" stroke-width="1.25"/>
<line x1="357.4" y1="501.3" x2="357.4" y2="505.5" stroke="#000" stroke-width="0.85"/>
<text x="357.4" y="515.1" font-size="8.8" text-anchor="middle">0</text>
<line x1="393.7" y1="501.3" x2="393.7" y2="505.5" stroke="#000" stroke-width="0.85"/>
<text x="393.7" y="515.1" font-size="8.8" text-anchor="middle">200</text>
<line x1="430" y1="501.3" x2="430" y2="505.5" stroke="#000" stroke-width="0.85"/>
<text x="430" y="515.1" font-size="8.8" text-anchor="middle">400</text>
<line x1="466.3" y1="501.3" x2="466.3" y2="505.5" stroke="#000" stroke-width="0.85"/>
<text x="466.3" y="515.1" font-size="8.8" text-anchor="middle">600</text>
<line x1="502.6" y1="501.3" x2="502.6" y2="505.5" stroke="#000" stroke-width="0.85"/>
<text x="502.6" y="515.1" font-size="8.8" text-anchor="middle">800</text>
<line x1="352.1" y1="401.3" x2="356.6" y2="401.3" stroke="#000" stroke-width="0.8"/>
<line x1="352.1" y1="412.96" x2="356.6" y2="412.96" stroke="#000" stroke-width="0.8"/>
<line x1="352.1" y1="424.62" x2="356.6" y2="424.62" stroke="#000" stroke-width="0.8"/>
<line x1="352.1" y1="436.28" x2="356.6" y2="436.28" stroke="#000" stroke-width="0.8"/>
<line x1="352.1" y1="447.94" x2="356.6" y2="447.94" stroke="#000" stroke-width="0.8"/>
<line x1="352.1" y1="459.6" x2="356.6" y2="459.6" stroke="#000" stroke-width="0.8"/>
<line x1="352.1" y1="471.26" x2="356.6" y2="471.26" stroke="#000" stroke-width="0.8"/>
<line x1="352.1" y1="482.92" x2="356.6" y2="482.92" stroke="#000" stroke-width="0.8"/>
<line x1="352.1" y1="494.58" x2="356.6" y2="494.58" stroke="#000" stroke-width="0.8"/>
<text x="438.7" y="529.1" font-size="11" text-anchor="middle" textLength="109.2" lengthAdjust="spacingAndGlyphs" style="fill:#2a2a2a;stroke:#2a2a2a;stroke-width:0.12px">CXCL8 mRNA expression</text>
<text x="438.7" y="541.8" font-size="11" text-anchor="middle" textLength="57.4" lengthAdjust="spacingAndGlyphs" style="fill:#2a2a2a;stroke:#2a2a2a;stroke-width:0.12px">(fold change)</text>
<text x="188.9" y="404.3" font-size="8.9" text-anchor="end" textLength="27.3" lengthAdjust="spacingAndGlyphs" style="fill:#2e2e2e;stroke:#2e2e2e;stroke-width:0.06px">Control</text>
<text x="188.9" y="415.96" font-size="8.9" text-anchor="end" textLength="33.7" lengthAdjust="spacingAndGlyphs" style="fill:#2e2e2e;stroke:#2e2e2e;stroke-width:0.06px">Poly (I:C)</text>
<text x="188.9" y="427.62" font-size="8.9" text-anchor="end" textLength="33.7" lengthAdjust="spacingAndGlyphs" style="fill:#2e2e2e;stroke:#2e2e2e;stroke-width:0.06px">Thrombin</text>
<text x="188.9" y="439.28" font-size="8.9" text-anchor="end" textLength="78.5" lengthAdjust="spacingAndGlyphs" style="fill:#2e2e2e;stroke:#2e2e2e;stroke-width:0.06px">Poly (I:C) + Thrombin</text>
<text x="188.9" y="450.94" font-size="8.9" text-anchor="end" textLength="111.4" lengthAdjust="spacingAndGlyphs" style="fill:#2e2e2e;stroke:#2e2e2e;stroke-width:0.06px">Poly (I:C) + Thrombin + IgGk1</text>
<text x="188.9" y="462.6" font-size="8.9" text-anchor="end" textLength="111.4" lengthAdjust="spacingAndGlyphs" style="fill:#2e2e2e;stroke:#2e2e2e;stroke-width:0.06px">Poly (I:C) + Thrombin + IgG2a</text>
<text x="188.9" y="474.26" font-size="8.9" text-anchor="end" textLength="155.3" lengthAdjust="spacingAndGlyphs" style="fill:#2e2e2e;stroke:#2e2e2e;stroke-width:0.06px">Poly (I:C)+Thrombin + WEDE15 + ATAP2</text>
<text x="188.9" y="485.92" font-size="8.9" text-anchor="end" textLength="110.7" lengthAdjust="spacingAndGlyphs" style="fill:#2e2e2e;stroke:#2e2e2e;stroke-width:0.06px">Poly (I:C) + Thrombin + SAMII</text>
<text x="188.9" y="497.58" font-size="8.9" text-anchor="end" textLength="178" lengthAdjust="spacingAndGlyphs" style="fill:#2e2e2e;stroke:#2e2e2e;stroke-width:0.06px">Poly (I:C) + Thrombin + WEDE+ATAP2 + SAMII</text>
<rect x="191.3" y="575.75" width="22.36" height="7.8" fill="#c01f3a"/>
<rect x="191.3" y="589.33" width="53.56" height="7.8" fill="#c01f3a"/>
<rect x="191.3" y="602.91" width="35.8" height="7.8" fill="#c01f3a"/>
<rect x="191.3" y="616.49" width="91" height="7.8" fill="#c01f3a"/>
<rect x="191.3" y="630.07" width="37" height="7.8" fill="#c01f3a"/>
<rect x="191.3" y="643.65" width="110.68" height="7.8" fill="#c01f3a"/>
<rect x="191.3" y="657.23" width="31" height="7.8" fill="#c01f3a"/>
<rect x="190.8" y="557.3" width="145.5" height="112.7" fill="none" stroke="#1a1a1a" stroke-width="1.25"/>
<line x1="192.3" y1="670" x2="192.3" y2="674.2" stroke="#000" stroke-width="0.85"/>
<text x="192.3" y="683.2" font-size="9.2" text-anchor="middle">0</text>
<line x1="240.3" y1="670" x2="240.3" y2="674.2" stroke="#000" stroke-width="0.85"/>
<text x="240.3" y="683.2" font-size="9.2" text-anchor="middle">20</text>
<line x1="288.3" y1="670" x2="288.3" y2="674.2" stroke="#000" stroke-width="0.85"/>
<text x="288.3" y="683.2" font-size="9.2" text-anchor="middle">40</text>
<line x1="336.3" y1="670" x2="336.3" y2="674.2" stroke="#000" stroke-width="0.85"/>
<text x="336.3" y="683.2" font-size="9.2" text-anchor="middle">60</text>
<line x1="186.3" y1="566.07" x2="190.8" y2="566.07" stroke="#000" stroke-width="0.8"/>
<line x1="186.3" y1="579.65" x2="190.8" y2="579.65" stroke="#000" stroke-width="0.8"/>
<line x1="186.3" y1="593.23" x2="190.8" y2="593.23" stroke="#000" stroke-width="0.8"/>
<line x1="186.3" y1="606.81" x2="190.8" y2="606.81" stroke="#000" stroke-width="0.8"/>
<line x1="186.3" y1="620.39" x2="190.8" y2="620.39" stroke="#000" stroke-width="0.8"/>
<line x1="186.3" y1="633.97" x2="190.8" y2="633.97" stroke="#000" stroke-width="0.8"/>
<line x1="186.3" y1="647.55" x2="190.8" y2="647.55" stroke="#000" stroke-width="0.8"/>
<line x1="186.3" y1="661.13" x2="190.8" y2="661.13" stroke="#000" stroke-width="0.8"/>
<text x="257" y="697.9" font-size="11" text-anchor="middle" textLength="89.9" lengthAdjust="spacingAndGlyphs" style="fill:#2a2a2a;stroke:#2a2a2a;stroke-width:0.12px">TF mRNA expression</text>
<text x="257" y="711" font-size="11" text-anchor="middle" textLength="57" lengthAdjust="spacingAndGlyphs" style="fill:#2a2a2a;stroke:#2a2a2a;stroke-width:0.12px">(fold change)</text>
<rect x="357.1" y="575.75" width="27.67" height="7.8" fill="#c01f3a"/>
<rect x="357.1" y="589.33" width="38.88" height="7.8" fill="#c01f3a"/>
<rect x="357.1" y="602.91" width="31.11" height="7.8" fill="#c01f3a"/>
<rect x="357.1" y="616.49" width="77.77" height="7.8" fill="#c01f3a"/>
<rect x="357.1" y="630.07" width="51.73" height="7.8" fill="#c01f3a"/>
<rect x="357.1" y="643.65" width="81.39" height="7.8" fill="#c01f3a"/>
<rect x="357.1" y="657.23" width="35.09" height="7.8" fill="#c01f3a"/>
<rect x="356.6" y="556.7" width="147.2" height="113.3" fill="none" stroke="#1a1a1a" stroke-width="1.25"/>
<line x1="358" y1="670" x2="358" y2="674.2" stroke="#000" stroke-width="0.85"/>
<text x="358" y="683.2" font-size="9.2" text-anchor="middle">0</text>
<line x1="394.18" y1="670" x2="394.18" y2="674.2" stroke="#000" stroke-width="0.85"/>
<text x="394.18" y="683.2" font-size="9.2" text-anchor="middle">20</text>
<line x1="430.35" y1="670" x2="430.35" y2="674.2" stroke="#000" stroke-width="0.85"/>
<text x="430.35" y="683.2" font-size="9.2" text-anchor="middle">40</text>
<line x1="466.52" y1="670" x2="466.52" y2="674.2" stroke="#000" stroke-width="0.85"/>
<text x="466.52" y="683.2" font-size="9.2" text-anchor="middle">60</text>
<line x1="502.7" y1="670" x2="502.7" y2="674.2" stroke="#000" stroke-width="0.85"/>
<text x="502.7" y="683.2" font-size="9.2" text-anchor="middle">80</text>
<line x1="352.1" y1="566.07" x2="356.6" y2="566.07" stroke="#000" stroke-width="0.8"/>
<line x1="352.1" y1="579.65" x2="356.6" y2="579.65" stroke="#000" stroke-width="0.8"/>
<line x1="352.1" y1="593.23" x2="356.6" y2="593.23" stroke="#000" stroke-width="0.8"/>
<line x1="352.1" y1="606.81" x2="356.6" y2="606.81" stroke="#000" stroke-width="0.8"/>
<line x1="352.1" y1="620.39" x2="356.6" y2="620.39" stroke="#000" stroke-width="0.8"/>
<line x1="352.1" y1="633.97" x2="356.6" y2="633.97" stroke="#000" stroke-width="0.8"/>
<line x1="352.1" y1="647.55" x2="356.6" y2="647.55" stroke="#000" stroke-width="0.8"/>
<line x1="352.1" y1="661.13" x2="356.6" y2="661.13" stroke="#000" stroke-width="0.8"/>
<text x="432.8" y="697.9" font-size="11" text-anchor="middle" textLength="108.5" lengthAdjust="spacingAndGlyphs" style="fill:#2a2a2a;stroke:#2a2a2a;stroke-width:0.12px">CXCL8 mRNA expression</text>
<text x="432.8" y="711" font-size="11" text-anchor="middle" textLength="57.4" lengthAdjust="spacingAndGlyphs" style="fill:#2a2a2a;stroke:#2a2a2a;stroke-width:0.12px">(fold change)</text>
<text x="184.1" y="569.17" font-size="8.9" text-anchor="end" textLength="27.3" lengthAdjust="spacingAndGlyphs" style="fill:#2e2e2e;stroke:#2e2e2e;stroke-width:0.06px">Control</text>
<text x="184.1" y="582.75" font-size="8.9" text-anchor="end" textLength="34" lengthAdjust="spacingAndGlyphs" style="fill:#2e2e2e;stroke:#2e2e2e;stroke-width:0.06px">Poly (I:C)</text>
<text x="184.1" y="596.33" font-size="8.9" text-anchor="end" textLength="75.8" lengthAdjust="spacingAndGlyphs" style="fill:#2e2e2e;stroke:#2e2e2e;stroke-width:0.06px">Poly (I:C) + SFLLRN</text>
<text x="184.1" y="609.91" font-size="8.9" text-anchor="end" textLength="121.8" lengthAdjust="spacingAndGlyphs" style="fill:#2e2e2e;stroke:#2e2e2e;stroke-width:0.06px">Poly (I:C) + SFLLRN + Vorapaxar</text>
<text x="184.1" y="623.49" font-size="8.9" text-anchor="end" textLength="73.8" lengthAdjust="spacingAndGlyphs" style="fill:#2e2e2e;stroke:#2e2e2e;stroke-width:0.06px">Poly (I:C) + SLIGKV</text>
<text x="184.1" y="637.07" font-size="8.9" text-anchor="end" textLength="107.3" lengthAdjust="spacingAndGlyphs" style="fill:#2e2e2e;stroke:#2e2e2e;stroke-width:0.06px">Poly (I:C) + SLIGKV + GB83</text>
<text x="184.1" y="650.65" font-size="8.9" text-anchor="end" textLength="120.4" lengthAdjust="spacingAndGlyphs" style="fill:#2e2e2e;stroke:#2e2e2e;stroke-width:0.06px">Poly (I:C) + SLIGKV + Vorapaxar</text>
<text x="184.1" y="664.23" font-size="8.9" text-anchor="end" textLength="108.7" lengthAdjust="spacingAndGlyphs" style="fill:#2e2e2e;stroke:#2e2e2e;stroke-width:0.06px">Poly (I:C) + SFLLRN + GB83</text>
<line x1="261.5" y1="96.5" x2="261.5" y2="111.2" stroke="#777" stroke-width="0.7"/>
<line x1="260.2" y1="96.5" x2="262.8" y2="96.5" stroke="#777" stroke-width="0.7"/>
<line x1="317.2" y1="63.5" x2="317.2" y2="79.3" stroke="#777" stroke-width="0.7"/>
<line x1="315.9" y1="63.5" x2="318.5" y2="63.5" stroke="#777" stroke-width="0.7"/>
<line x1="328.2" y1="48.8" x2="328.2" y2="60.3" stroke="#777" stroke-width="0.7"/>
<line x1="326.9" y1="48.8" x2="329.5" y2="48.8" stroke="#777" stroke-width="0.7"/>
<circle cx="232.3" cy="147.7" r="2.15" fill="none" stroke="#1a1a1a" stroke-width="0.75"/>
<circle cx="231.2" cy="154.6" r="2.15" fill="none" stroke="#1a1a1a" stroke-width="0.75"/>
<circle cx="233.8" cy="154.6" r="2.15" fill="none" stroke="#1a1a1a" stroke-width="0.75"/>
<circle cx="232.2" cy="157.5" r="2.15" fill="none" stroke="#1a1a1a" stroke-width="0.75"/>
<circle cx="234.2" cy="158.8" r="2.15" fill="none" stroke="#1a1a1a" stroke-width="0.75"/>
<circle cx="243.6" cy="153.2" r="2.15" fill="none" stroke="#1a1a1a" stroke-width="0.75"/>
<circle cx="242.2" cy="155.2" r="2.15" fill="none" stroke="#1a1a1a" stroke-width="0.75"/>
<circle cx="245" cy="155" r="2.15" fill="none" stroke="#1a1a1a" stroke-width="0.75"/>
<circle cx="243.6" cy="157" r="2.15" fill="none" stroke="#1a1a1a" stroke-width="0.75"/>
<circle cx="244.2" cy="154" r="2.15" fill="none" stroke="#1a1a1a" stroke-width="0.75"/>
<circle cx="260.8" cy="92.5" r="2.15" fill="none" stroke="#1a1a1a" stroke-width="0.75"/>
<circle cx="260.8" cy="100.4" r="2.15" fill="none" stroke="#1a1a1a" stroke-width="0.75"/>
<circle cx="262.3" cy="106.4" r="2.15" fill="none" stroke="#1a1a1a" stroke-width="0.75"/>
<circle cx="259.2" cy="108.7" r="2.15" fill="none" stroke="#1a1a1a" stroke-width="0.75"/>
<circle cx="262.3" cy="122.3" r="2.15" fill="none" stroke="#1a1a1a" stroke-width="0.75"/>
<circle cx="260.5" cy="126.5" r="2.15" fill="none" stroke="#1a1a1a" stroke-width="0.75"/>
<circle cx="271.5" cy="98.8" r="2.15" fill="none" stroke="#1a1a1a" stroke-width="0.75"/>
<circle cx="270" cy="105.2" r="2.15" fill="none" stroke="#1a1a1a" stroke-width="0.75"/>
<circle cx="273.5" cy="106.4" r="2.15" fill="none" stroke="#1a1a1a" stroke-width="0.75"/>
<circle cx="271.7" cy="116.5" r="2.15" fill="none" stroke="#1a1a1a" stroke-width="0.75"/>
<circle cx="271.7" cy="121.5" r="2.15" fill="none" stroke="#1a1a1a" stroke-width="0.75"/>
<circle cx="271.7" cy="126" r="2.15" fill="none" stroke="#1a1a1a" stroke-width="0.75"/>
<circle cx="289.5" cy="150.3" r="2.15" fill="none" stroke="#1a1a1a" stroke-width="0.75"/>
<circle cx="288.6" cy="152.6" r="2.15" fill="none" stroke="#1a1a1a" stroke-width="0.75"/>
<circle cx="287.7" cy="156.2" r="2.15" fill="none" stroke="#1a1a1a" stroke-width="0.75"/>
<circle cx="290.4" cy="156.7" r="2.15" fill="none" stroke="#1a1a1a" stroke-width="0.75"/>
<circle cx="300" cy="127.7" r="2.15" fill="none" stroke="#1a1a1a" stroke-width="0.75"/>
<circle cx="298.1" cy="132.6" r="2.15" fill="none" stroke="#1a1a1a" stroke-width="0.75"/>
<circle cx="301.8" cy="136.7" r="2.15" fill="none" stroke="#1a1a1a" stroke-width="0.75"/>
<circle cx="298.1" cy="150.8" r="2.15" fill="none" stroke="#1a1a1a" stroke-width="0.75"/>
<circle cx="301.3" cy="149.9" r="2.15" fill="none" stroke="#1a1a1a" stroke-width="0.75"/>
<circle cx="315.7" cy="62.2" r="2.15" fill="none" stroke="#1a1a1a" stroke-width="0.75"/>
<circle cx="319.2" cy="61.1" r="2.15" fill="none" stroke="#1a1a1a" stroke-width="0.75"/>
<circle cx="315.7" cy="82.2" r="2.15" fill="none" stroke="#1a1a1a" stroke-width="0.75"/>
<circle cx="319.2" cy="82.2" r="2.15" fill="none" stroke="#1a1a1a" stroke-width="0.75"/>
<circle cx="315.7" cy="90" r="2.15" fill="none" stroke="#1a1a1a" stroke-width="0.75"/>
<circle cx="319.2" cy="90" r="2.15" fill="none" stroke="#1a1a1a" stroke-width="0.75"/>
<circle cx="328.2" cy="39.8" r="2.15" fill="none" stroke="#1a1a1a" stroke-width="0.75"/>
<circle cx="328.2" cy="55.6" r="2.15" fill="none" stroke="#1a1a1a" stroke-width="0.75"/>
<circle cx="326.7" cy="62.7" r="2.15" fill="none" stroke="#1a1a1a" stroke-width="0.75"/>
<circle cx="329.7" cy="62.7" r="2.15" fill="none" stroke="#1a1a1a" stroke-width="0.75"/>
<circle cx="328.2" cy="71" r="2.15" fill="none" stroke="#1a1a1a" stroke-width="0.75"/>
<line x1="327.8" y1="218" x2="327.8" y2="234.9" stroke="#777" stroke-width="0.7"/>
<line x1="326.5" y1="218" x2="329.1" y2="218" stroke="#777" stroke-width="0.7"/>
<circle cx="233.2" cy="313.7" r="2.3" fill="#2a2a2a" stroke="#111" stroke-width="0.6"/>
<circle cx="231.8" cy="314.2" r="2.3" fill="#2a2a2a" stroke="#111" stroke-width="0.6"/>
<circle cx="243" cy="313.5" r="2.3" fill="#2a2a2a" stroke="#111" stroke-width="0.6"/>
<circle cx="244.5" cy="313.2" r="2.3" fill="#2a2a2a" stroke="#111" stroke-width="0.6"/>
<circle cx="289.2" cy="314" r="2.3" fill="#2a2a2a" stroke="#111" stroke-width="0.6"/>
<circle cx="299.8" cy="310.3" r="2.3" fill="#2a2a2a" stroke="#111" stroke-width="0.6"/>
<circle cx="301" cy="311" r="2.3" fill="#2a2a2a" stroke="#111" stroke-width="0.6"/>
<circle cx="259.2" cy="285.2" r="2.15" fill="none" stroke="#1a1a1a" stroke-width="0.75"/>
<circle cx="262.7" cy="286.3" r="2.15" fill="none" stroke="#1a1a1a" stroke-width="0.75"/>
<circle cx="259.8" cy="290.4" r="2.15" fill="none" stroke="#1a1a1a" stroke-width="0.75"/>
<circle cx="262.1" cy="289.2" r="2.15" fill="none" stroke="#1a1a1a" stroke-width="0.75"/>
<circle cx="259.2" cy="293.3" r="2.15" fill="none" stroke="#1a1a1a" stroke-width="0.75"/>
<circle cx="271.9" cy="285.8" r="2.15" fill="none" stroke="#1a1a1a" stroke-width="0.75"/>
<circle cx="270.2" cy="291" r="2.15" fill="none" stroke="#1a1a1a" stroke-width="0.75"/>
<circle cx="272.5" cy="289.8" r="2.15" fill="none" stroke="#1a1a1a" stroke-width="0.75"/>
<circle cx="269.6" cy="294.4" r="2.15" fill="none" stroke="#1a1a1a" stroke-width="0.75"/>
<circle cx="318.9" cy="220.4" r="2.15" fill="none" stroke="#1a1a1a" stroke-width="0.75"/>
<circle cx="315.5" cy="224.3" r="2.15" fill="none" stroke="#1a1a1a" stroke-width="0.75"/>
<circle cx="315.5" cy="231" r="2.15" fill="none" stroke="#1a1a1a" stroke-width="0.75"/>
<circle cx="318.9" cy="231" r="2.15" fill="none" stroke="#1a1a1a" stroke-width="0.75"/>
<circle cx="317.2" cy="237.7" r="2.15" fill="none" stroke="#1a1a1a" stroke-width="0.75"/>
<circle cx="317.2" cy="248.6" r="2.15" fill="none" stroke="#1a1a1a" stroke-width="0.75"/>
<circle cx="327.8" cy="210.9" r="2.15" fill="none" stroke="#1a1a1a" stroke-width="0.75"/>
<circle cx="327.8" cy="223.5" r="2.15" fill="none" stroke="#1a1a1a" stroke-width="0.75"/>
<circle cx="326.9" cy="238.6" r="2.15" fill="none" stroke="#1a1a1a" stroke-width="0.75"/>
<circle cx="329.4" cy="238.6" r="2.15" fill="none" stroke="#1a1a1a" stroke-width="0.75"/>
<circle cx="327.8" cy="243.9" r="2.15" fill="none" stroke="#1a1a1a" stroke-width="0.75"/>
<ellipse cx="295.4" cy="38.9" rx="1.15" ry="0.98" fill="#2a2a2a"/>
<ellipse cx="298.75" cy="38.9" rx="1.15" ry="0.98" fill="#2a2a2a"/>
<ellipse cx="302.1" cy="38.9" rx="1.15" ry="0.98" fill="#2a2a2a"/>
<ellipse cx="289.8" cy="190.9" rx="1.15" ry="0.98" fill="#2a2a2a"/>
<ellipse cx="293.1" cy="190.9" rx="1.15" ry="0.98" fill="#2a2a2a"/>
<ellipse cx="296.4" cy="190.9" rx="1.15" ry="0.98" fill="#2a2a2a"/>
<circle cx="197" cy="400.5" r="1.8" fill="none" stroke="#303030" stroke-width="0.5"/>
<circle cx="198.2" cy="402.2" r="1.8" fill="none" stroke="#303030" stroke-width="0.5"/>
<circle cx="197.4" cy="403.6" r="1.8" fill="none" stroke="#303030" stroke-width="0.5"/>
<circle cx="198.8" cy="401" r="1.8" fill="none" stroke="#303030" stroke-width="0.5"/>
<circle cx="196.8" cy="402.6" r="1.8" fill="none" stroke="#303030" stroke-width="0.5"/>
<circle cx="222.6" cy="414.16" r="1.8" fill="none" stroke="#303030" stroke-width="0.6"/>
<circle cx="229.9" cy="411.96" r="1.8" fill="none" stroke="#303030" stroke-width="0.6"/>
<circle cx="232.1" cy="415.96" r="1.8" fill="none" stroke="#303030" stroke-width="0.6"/>
<circle cx="234.6" cy="411.96" r="1.8" fill="none" stroke="#303030" stroke-width="0.6"/>
<circle cx="241" cy="414.16" r="1.8" fill="none" stroke="#303030" stroke-width="0.6"/>
<circle cx="254.3" cy="414.16" r="1.8" fill="none" stroke="#303030" stroke-width="0.6"/>
<line x1="236.5" y1="413.76" x2="246.3" y2="413.76" stroke="#222" stroke-width="0.8"/>
<line x1="246.3" y1="412.16" x2="246.3" y2="415.36" stroke="#222" stroke-width="0.8"/>
<circle cx="198.4" cy="424.6" r="1.8" fill="none" stroke="#303030" stroke-width="0.5"/>
<circle cx="201" cy="426.6" r="1.8" fill="none" stroke="#303030" stroke-width="0.5"/>
<circle cx="197.2" cy="426" r="1.8" fill="none" stroke="#303030" stroke-width="0.5"/>
<circle cx="199.5" cy="423" r="1.8" fill="none" stroke="#303030" stroke-width="0.5"/>
<circle cx="240.4" cy="435.78" r="1.8" fill="none" stroke="#303030" stroke-width="0.6"/>
<circle cx="239.5" cy="438.08" r="1.8" fill="none" stroke="#303030" stroke-width="0.6"/>
<circle cx="242.5" cy="435.28" r="1.8" fill="none" stroke="#303030" stroke-width="0.6"/>
<circle cx="245" cy="436.28" r="1.8" fill="none" stroke="#303030" stroke-width="0.6"/>
<circle cx="247.5" cy="435.48" r="1.8" fill="none" stroke="#303030" stroke-width="0.6"/>
<circle cx="251.2" cy="436.28" r="1.8" fill="none" stroke="#303030" stroke-width="0.6"/>
<circle cx="253.5" cy="435.78" r="1.8" fill="none" stroke="#303030" stroke-width="0.6"/>
<circle cx="255" cy="437.28" r="1.8" fill="none" stroke="#303030" stroke-width="0.6"/>
<circle cx="258.8" cy="435.78" r="1.8" fill="none" stroke="#303030" stroke-width="0.6"/>
<circle cx="260" cy="436.78" r="1.8" fill="none" stroke="#303030" stroke-width="0.6"/>
<circle cx="264" cy="436.28" r="1.8" fill="none" stroke="#303030" stroke-width="0.6"/>
<circle cx="282" cy="436.28" r="1.8" fill="none" stroke="#303030" stroke-width="0.6"/>
<circle cx="284.6" cy="437.28" r="1.8" fill="none" stroke="#303030" stroke-width="0.6"/>
<circle cx="294.6" cy="436.28" r="1.8" fill="none" stroke="#303030" stroke-width="0.6"/>
<circle cx="312" cy="436.28" r="1.8" fill="none" stroke="#303030" stroke-width="0.6"/>
<line x1="262.1" y1="436.28" x2="282.9" y2="436.28" stroke="#222" stroke-width="0.8"/>
<line x1="282.9" y1="434.68" x2="282.9" y2="437.88" stroke="#222" stroke-width="0.8"/>
<circle cx="251.2" cy="449.44" r="1.8" fill="none" stroke="#303030" stroke-width="0.6"/>
<circle cx="254.2" cy="447.44" r="1.8" fill="none" stroke="#303030" stroke-width="0.6"/>
<circle cx="265" cy="447.94" r="1.8" fill="none" stroke="#303030" stroke-width="0.6"/>
<circle cx="269.6" cy="447.94" r="1.8" fill="none" stroke="#303030" stroke-width="0.6"/>
<circle cx="277.3" cy="448.44" r="1.8" fill="none" stroke="#303030" stroke-width="0.6"/>
<circle cx="297.3" cy="448.44" r="1.8" fill="none" stroke="#303030" stroke-width="0.6"/>
<line x1="268.2" y1="447.94" x2="286.1" y2="447.94" stroke="#222" stroke-width="0.8"/>
<line x1="286.1" y1="446.34" x2="286.1" y2="449.54" stroke="#222" stroke-width="0.8"/>
<circle cx="257.3" cy="459.6" r="1.8" fill="none" stroke="#303030" stroke-width="0.6"/>
<circle cx="263.5" cy="459.6" r="1.8" fill="none" stroke="#303030" stroke-width="0.6"/>
<circle cx="268.1" cy="460.6" r="1.8" fill="none" stroke="#303030" stroke-width="0.6"/>
<circle cx="270.8" cy="458.6" r="1.8" fill="none" stroke="#303030" stroke-width="0.6"/>
<circle cx="290.7" cy="460.1" r="1.8" fill="none" stroke="#303030" stroke-width="0.6"/>
<circle cx="292.9" cy="457.6" r="1.8" fill="none" stroke="#303030" stroke-width="0.6"/>
<circle cx="291.2" cy="461.6" r="1.8" fill="none" stroke="#303030" stroke-width="0.6"/>
<line x1="272.5" y1="459.6" x2="288.9" y2="459.6" stroke="#222" stroke-width="0.8"/>
<line x1="288.9" y1="458" x2="288.9" y2="461.2" stroke="#222" stroke-width="0.8"/>
<circle cx="221.9" cy="471.26" r="1.8" fill="none" stroke="#303030" stroke-width="0.6"/>
<circle cx="225" cy="469.76" r="1.8" fill="none" stroke="#303030" stroke-width="0.6"/>
<circle cx="226.5" cy="472.76" r="1.8" fill="none" stroke="#303030" stroke-width="0.6"/>
<circle cx="229.6" cy="470.76" r="1.8" fill="none" stroke="#303030" stroke-width="0.6"/>
<circle cx="232.7" cy="472.76" r="1.8" fill="none" stroke="#303030" stroke-width="0.6"/>
<circle cx="241.9" cy="471.76" r="1.8" fill="none" stroke="#303030" stroke-width="0.6"/>
<line x1="229" y1="471.26" x2="236" y2="471.26" stroke="#222" stroke-width="0.8"/>
<line x1="236" y1="469.66" x2="236" y2="472.86" stroke="#222" stroke-width="0.8"/>
<circle cx="251.2" cy="482.92" r="1.8" fill="none" stroke="#303030" stroke-width="0.6"/>
<circle cx="261.9" cy="482.92" r="1.8" fill="none" stroke="#303030" stroke-width="0.6"/>
<circle cx="267.3" cy="482.92" r="1.8" fill="none" stroke="#303030" stroke-width="0.6"/>
<circle cx="269.6" cy="482.92" r="1.8" fill="none" stroke="#303030" stroke-width="0.6"/>
<circle cx="275.1" cy="481.92" r="1.8" fill="none" stroke="#303030" stroke-width="0.6"/>
<circle cx="284.3" cy="482.92" r="1.8" fill="none" stroke="#303030" stroke-width="0.6"/>
<circle cx="289.6" cy="483.92" r="1.8" fill="none" stroke="#303030" stroke-width="0.6"/>
<circle cx="293.3" cy="483.92" r="1.8" fill="none" stroke="#303030" stroke-width="0.6"/>
<circle cx="295.8" cy="480.92" r="1.8" fill="none" stroke="#303030" stroke-width="0.6"/>
<circle cx="300.2" cy="482.92" r="1.8" fill="none" stroke="#303030" stroke-width="0.6"/>
<line x1="273.4" y1="482.92" x2="290.7" y2="482.92" stroke="#222" stroke-width="0.8"/>
<line x1="290.7" y1="481.32" x2="290.7" y2="484.52" stroke="#222" stroke-width="0.8"/>
<circle cx="223.5" cy="494.58" r="1.8" fill="none" stroke="#303030" stroke-width="0.6"/>
<circle cx="226.5" cy="493.58" r="1.8" fill="none" stroke="#303030" stroke-width="0.6"/>
<circle cx="229.6" cy="495.58" r="1.8" fill="none" stroke="#303030" stroke-width="0.6"/>
<line x1="260.6" y1="403.4" x2="260.6" y2="414.7" stroke="#8a8a8a" stroke-width="0.7"/>
<line x1="259.4" y1="403.4" x2="261.8" y2="403.4" stroke="#8a8a8a" stroke-width="0.7"/>
<line x1="259.4" y1="414.7" x2="261.8" y2="414.7" stroke="#8a8a8a" stroke-width="0.7"/>
<ellipse cx="267.9" cy="405.7" rx="1.15" ry="0.98" fill="#2a2a2a"/>
<ellipse cx="267.9" cy="409.1" rx="1.15" ry="0.98" fill="#2a2a2a"/>
<ellipse cx="267.9" cy="412.5" rx="1.15" ry="0.98" fill="#2a2a2a"/>
<line x1="305.4" y1="413.4" x2="305.4" y2="436.4" stroke="#8a8a8a" stroke-width="0.7"/>
<line x1="304.2" y1="413.4" x2="306.6" y2="413.4" stroke="#8a8a8a" stroke-width="0.7"/>
<line x1="304.2" y1="436.4" x2="306.6" y2="436.4" stroke="#8a8a8a" stroke-width="0.7"/>
<ellipse cx="313.1" cy="421" rx="1.15" ry="0.98" fill="#2a2a2a"/>
<ellipse cx="313.1" cy="424.3" rx="1.15" ry="0.98" fill="#2a2a2a"/>
<line x1="305.4" y1="438.4" x2="305.4" y2="495.5" stroke="#8a8a8a" stroke-width="0.7"/>
<line x1="304.2" y1="438.4" x2="306.6" y2="438.4" stroke="#8a8a8a" stroke-width="0.7"/>
<line x1="304.2" y1="495.5" x2="306.6" y2="495.5" stroke="#8a8a8a" stroke-width="0.7"/>
<ellipse cx="313.1" cy="461" rx="1.15" ry="0.98" fill="#2a2a2a"/>
<ellipse cx="313.1" cy="464.6" rx="1.15" ry="0.98" fill="#2a2a2a"/>
<ellipse cx="313.1" cy="468.2" rx="1.15" ry="0.98" fill="#2a2a2a"/>
<ellipse cx="313.1" cy="471.8" rx="1.15" ry="0.98" fill="#2a2a2a"/>
<line x1="316.3" y1="438.4" x2="316.3" y2="473.9" stroke="#8a8a8a" stroke-width="0.7"/>
<line x1="315.1" y1="438.4" x2="317.5" y2="438.4" stroke="#8a8a8a" stroke-width="0.7"/>
<line x1="315.1" y1="473.9" x2="317.5" y2="473.9" stroke="#8a8a8a" stroke-width="0.7"/>
<ellipse cx="323.5" cy="450.7" rx="1.15" ry="0.98" fill="#2a2a2a"/>
<ellipse cx="323.5" cy="454.3" rx="1.15" ry="0.98" fill="#2a2a2a"/>
<ellipse cx="323.5" cy="457.9" rx="1.15" ry="0.98" fill="#2a2a2a"/>
<ellipse cx="323.5" cy="461.5" rx="1.15" ry="0.98" fill="#2a2a2a"/>
<line x1="325.8" y1="438.4" x2="325.8" y2="484.3" stroke="#8a8a8a" stroke-width="0.7"/>
<line x1="324.6" y1="438.4" x2="327" y2="438.4" stroke="#8a8a8a" stroke-width="0.7"/>
<line x1="324.6" y1="484.3" x2="327" y2="484.3" stroke="#8a8a8a" stroke-width="0.7"/>
<text x="327.6" y="463.6" font-size="9.3" textLength="7.9" lengthAdjust="spacingAndGlyphs" style="fill:#505050;stroke:#505050;stroke-width:0.02px">ns</text>
<circle cx="357.3" cy="400.5" r="1.8" fill="none" stroke="#303030" stroke-width="0.5"/>
<circle cx="358.5" cy="401.8" r="1.8" fill="none" stroke="#303030" stroke-width="0.5"/>
<circle cx="357.6" cy="402.8" r="1.8" fill="none" stroke="#303030" stroke-width="0.5"/>
<circle cx="404.2" cy="412.96" r="1.8" fill="none" stroke="#303030" stroke-width="0.6"/>
<circle cx="407.4" cy="412.96" r="1.8" fill="none" stroke="#303030" stroke-width="0.6"/>
<circle cx="410.6" cy="412.46" r="1.8" fill="none" stroke="#303030" stroke-width="0.6"/>
<circle cx="406.3" cy="414.96" r="1.8" fill="none" stroke="#303030" stroke-width="0.6"/>
<line x1="405.9" y1="412.96" x2="413.8" y2="412.96" stroke="#222" stroke-width="0.8"/>
<line x1="413.8" y1="411.36" x2="413.8" y2="414.56" stroke="#222" stroke-width="0.8"/>
<circle cx="360" cy="424.12" r="1.8" fill="none" stroke="#303030" stroke-width="0.5"/>
<circle cx="361.5" cy="425.12" r="1.8" fill="none" stroke="#303030" stroke-width="0.5"/>
<circle cx="360.5" cy="426.12" r="1.8" fill="none" stroke="#303030" stroke-width="0.5"/>
<circle cx="414.8" cy="436.28" r="1.8" fill="none" stroke="#303030" stroke-width="0.6"/>
<circle cx="420.7" cy="436.28" r="1.8" fill="none" stroke="#303030" stroke-width="0.6"/>
<circle cx="428.1" cy="436.28" r="1.8" fill="none" stroke="#303030" stroke-width="0.6"/>
<circle cx="434.9" cy="436.28" r="1.8" fill="none" stroke="#303030" stroke-width="0.6"/>
<circle cx="440.2" cy="436.28" r="1.8" fill="none" stroke="#303030" stroke-width="0.6"/>
<circle cx="445.5" cy="436.28" r="1.8" fill="none" stroke="#303030" stroke-width="0.6"/>
<circle cx="450.8" cy="434.78" r="1.8" fill="none" stroke="#303030" stroke-width="0.6"/>
<circle cx="450.8" cy="437.78" r="1.8" fill="none" stroke="#303030" stroke-width="0.6"/>
<circle cx="455" cy="436.28" r="1.8" fill="none" stroke="#303030" stroke-width="0.6"/>
<circle cx="460.3" cy="436.28" r="1.8" fill="none" stroke="#303030" stroke-width="0.6"/>
<circle cx="463.5" cy="436.28" r="1.8" fill="none" stroke="#303030" stroke-width="0.6"/>
<line x1="443" y1="436.28" x2="452" y2="436.28" stroke="#222" stroke-width="0.8"/>
<line x1="452" y1="434.68" x2="452" y2="437.88" stroke="#222" stroke-width="0.8"/>
<circle cx="422.8" cy="447.94" r="1.8" fill="none" stroke="#303030" stroke-width="0.6"/>
<circle cx="426.4" cy="447.94" r="1.8" fill="none" stroke="#303030" stroke-width="0.6"/>
<circle cx="445" cy="449.94" r="1.8" fill="none" stroke="#303030" stroke-width="0.6"/>
<circle cx="446.5" cy="445.94" r="1.8" fill="none" stroke="#303030" stroke-width="0.6"/>
<circle cx="456" cy="449.94" r="1.8" fill="none" stroke="#303030" stroke-width="0.6"/>
<circle cx="458.8" cy="445.94" r="1.8" fill="none" stroke="#303030" stroke-width="0.6"/>
<line x1="443" y1="447.94" x2="457.1" y2="447.94" stroke="#222" stroke-width="0.8"/>
<line x1="457.1" y1="446.34" x2="457.1" y2="449.54" stroke="#222" stroke-width="0.8"/>
<circle cx="450.8" cy="458.6" r="1.8" fill="none" stroke="#303030" stroke-width="0.6"/>
<circle cx="451.8" cy="461.1" r="1.8" fill="none" stroke="#303030" stroke-width="0.6"/>
<circle cx="457.1" cy="459.6" r="1.8" fill="none" stroke="#303030" stroke-width="0.6"/>
<circle cx="461.3" cy="459.6" r="1.8" fill="none" stroke="#303030" stroke-width="0.6"/>
<line x1="455.4" y1="459.6" x2="460" y2="459.6" stroke="#222" stroke-width="0.8"/>
<line x1="460" y1="458" x2="460" y2="461.2" stroke="#222" stroke-width="0.8"/>
<circle cx="409.5" cy="471.26" r="1.8" fill="none" stroke="#303030" stroke-width="0.6"/>
<circle cx="412.7" cy="471.26" r="1.8" fill="none" stroke="#303030" stroke-width="0.6"/>
<circle cx="414.8" cy="470.26" r="1.8" fill="none" stroke="#303030" stroke-width="0.6"/>
<circle cx="409.5" cy="482.92" r="1.8" fill="none" stroke="#303030" stroke-width="0.6"/>
<circle cx="436" cy="482.92" r="1.8" fill="none" stroke="#303030" stroke-width="0.6"/>
<circle cx="439.1" cy="481.92" r="1.8" fill="none" stroke="#303030" stroke-width="0.6"/>
<circle cx="441.3" cy="483.92" r="1.8" fill="none" stroke="#303030" stroke-width="0.6"/>
<circle cx="444.4" cy="483.92" r="1.8" fill="none" stroke="#303030" stroke-width="0.6"/>
<line x1="433.2" y1="482.92" x2="444" y2="482.92" stroke="#222" stroke-width="0.8"/>
<line x1="444" y1="481.32" x2="444" y2="484.52" stroke="#222" stroke-width="0.8"/>
<circle cx="424.3" cy="494.58" r="1.8" fill="none" stroke="#303030" stroke-width="0.6"/>
<circle cx="428.6" cy="495.58" r="1.8" fill="none" stroke="#303030" stroke-width="0.6"/>
<circle cx="431.7" cy="494.08" r="1.8" fill="none" stroke="#303030" stroke-width="0.6"/>
<circle cx="436" cy="494.08" r="1.8" fill="none" stroke="#303030" stroke-width="0.6"/>
<circle cx="441.9" cy="494.58" r="1.8" fill="none" stroke="#303030" stroke-width="0.6"/>
<line x1="433.8" y1="494.58" x2="437.5" y2="494.58" stroke="#222" stroke-width="0.8"/>
<line x1="437.5" y1="492.98" x2="437.5" y2="496.18" stroke="#222" stroke-width="0.8"/>
<line x1="419" y1="400.9" x2="419" y2="412.5" stroke="#8a8a8a" stroke-width="0.7"/>
<line x1="417.8" y1="400.9" x2="420.2" y2="400.9" stroke="#8a8a8a" stroke-width="0.7"/>
<line x1="417.8" y1="412.5" x2="420.2" y2="412.5" stroke="#8a8a8a" stroke-width="0.7"/>
<ellipse cx="426.4" cy="400.9" rx="1.15" ry="0.98" fill="#2a2a2a"/>
<ellipse cx="426.4" cy="404.4" rx="1.15" ry="0.98" fill="#2a2a2a"/>
<ellipse cx="426.4" cy="407.9" rx="1.15" ry="0.98" fill="#2a2a2a"/>
<ellipse cx="426.4" cy="411.4" rx="1.15" ry="0.98" fill="#2a2a2a"/>
<line x1="470.9" y1="413.1" x2="470.9" y2="435.3" stroke="#8a8a8a" stroke-width="0.7"/>
<line x1="469.7" y1="413.1" x2="472.1" y2="413.1" stroke="#8a8a8a" stroke-width="0.7"/>
<line x1="469.7" y1="435.3" x2="472.1" y2="435.3" stroke="#8a8a8a" stroke-width="0.7"/>
<ellipse cx="478.7" cy="418.9" rx="1.15" ry="0.98" fill="#2a2a2a"/>
<ellipse cx="478.7" cy="422.45" rx="1.15" ry="0.98" fill="#2a2a2a"/>
<ellipse cx="478.7" cy="426" rx="1.15" ry="0.98" fill="#2a2a2a"/>
<ellipse cx="478.7" cy="429.55" rx="1.15" ry="0.98" fill="#2a2a2a"/>
<line x1="470.9" y1="437.9" x2="470.9" y2="482.7" stroke="#8a8a8a" stroke-width="0.7"/>
<line x1="469.7" y1="437.9" x2="472.1" y2="437.9" stroke="#8a8a8a" stroke-width="0.7"/>
<line x1="469.7" y1="482.7" x2="472.1" y2="482.7" stroke="#8a8a8a" stroke-width="0.7"/>
<text x="473.8" y="463.3" font-size="9.3" textLength="7.9" lengthAdjust="spacingAndGlyphs" style="fill:#505050;stroke:#505050;stroke-width:0.02px">ns</text>
<line x1="484" y1="437.9" x2="484" y2="469.6" stroke="#8a8a8a" stroke-width="0.7"/>
<line x1="482.8" y1="437.9" x2="485.2" y2="437.9" stroke="#8a8a8a" stroke-width="0.7"/>
<line x1="482.8" y1="469.6" x2="485.2" y2="469.6" stroke="#8a8a8a" stroke-width="0.7"/>
<ellipse cx="491.4" cy="448.5" rx="1.15" ry="0.98" fill="#2a2a2a"/>
<ellipse cx="491.4" cy="452.05" rx="1.15" ry="0.98" fill="#2a2a2a"/>
<ellipse cx="491.4" cy="455.6" rx="1.15" ry="0.98" fill="#2a2a2a"/>
<ellipse cx="491.4" cy="459.15" rx="1.15" ry="0.98" fill="#2a2a2a"/>
<circle cx="193.2" cy="564.57" r="1.8" fill="#555" stroke="#222" stroke-width="0.6"/>
<circle cx="194.5" cy="566.37" r="1.8" fill="#555" stroke="#222" stroke-width="0.6"/>
<circle cx="195.8" cy="567.27" r="1.8" fill="#555" stroke="#222" stroke-width="0.6"/>
<circle cx="193.5" cy="568.57" r="1.8" fill="#555" stroke="#222" stroke-width="0.6"/>
<circle cx="196.2" cy="565.07" r="1.8" fill="#555" stroke="#222" stroke-width="0.6"/>
<circle cx="194" cy="563.87" r="1.8" fill="#555" stroke="#222" stroke-width="0.6"/>
<circle cx="205.5" cy="577.15" r="1.8" fill="none" stroke="#303030" stroke-width="0.6"/>
<circle cx="206" cy="580.15" r="1.8" fill="none" stroke="#303030" stroke-width="0.6"/>
<circle cx="205.5" cy="583.15" r="1.8" fill="none" stroke="#303030" stroke-width="0.6"/>
<circle cx="208.5" cy="578.65" r="1.8" fill="none" stroke="#303030" stroke-width="0.6"/>
<circle cx="210.5" cy="581.15" r="1.8" fill="none" stroke="#303030" stroke-width="0.6"/>
<circle cx="216" cy="577.15" r="1.8" fill="none" stroke="#303030" stroke-width="0.6"/>
<circle cx="219.5" cy="577.15" r="1.8" fill="none" stroke="#303030" stroke-width="0.6"/>
<circle cx="217" cy="580.15" r="1.8" fill="none" stroke="#303030" stroke-width="0.6"/>
<circle cx="220.5" cy="580.15" r="1.8" fill="none" stroke="#303030" stroke-width="0.6"/>
<circle cx="217.5" cy="582.65" r="1.8" fill="none" stroke="#303030" stroke-width="0.6"/>
<circle cx="221" cy="582.65" r="1.8" fill="none" stroke="#303030" stroke-width="0.6"/>
<circle cx="214.8" cy="580.65" r="1.8" fill="none" stroke="#303030" stroke-width="0.6"/>
<circle cx="223.8" cy="591.73" r="1.8" fill="none" stroke="#303030" stroke-width="0.6"/>
<circle cx="223.8" cy="594.73" r="1.8" fill="none" stroke="#303030" stroke-width="0.6"/>
<circle cx="233.8" cy="593.23" r="1.8" fill="none" stroke="#303030" stroke-width="0.6"/>
<circle cx="241.3" cy="593.23" r="1.8" fill="none" stroke="#303030" stroke-width="0.6"/>
<circle cx="247.5" cy="590.73" r="1.8" fill="none" stroke="#303030" stroke-width="0.6"/>
<circle cx="248.8" cy="595.73" r="1.8" fill="none" stroke="#303030" stroke-width="0.6"/>
<circle cx="255" cy="595.73" r="1.8" fill="none" stroke="#303030" stroke-width="0.6"/>
<circle cx="257.5" cy="590.73" r="1.8" fill="none" stroke="#303030" stroke-width="0.6"/>
<circle cx="280" cy="593.23" r="1.8" fill="none" stroke="#303030" stroke-width="0.6"/>
<line x1="244.5" y1="593.23" x2="261.3" y2="593.23" stroke="#222" stroke-width="0.8"/>
<line x1="261.3" y1="591.63" x2="261.3" y2="594.83" stroke="#222" stroke-width="0.8"/>
<circle cx="211.3" cy="606.81" r="1.8" fill="none" stroke="#303030" stroke-width="0.6"/>
<circle cx="217.5" cy="606.31" r="1.8" fill="none" stroke="#303030" stroke-width="0.6"/>
<circle cx="220" cy="607.81" r="1.8" fill="none" stroke="#303030" stroke-width="0.6"/>
<circle cx="222.5" cy="605.31" r="1.8" fill="none" stroke="#303030" stroke-width="0.6"/>
<circle cx="222" cy="609.31" r="1.8" fill="none" stroke="#303030" stroke-width="0.6"/>
<circle cx="235" cy="606.31" r="1.8" fill="none" stroke="#303030" stroke-width="0.6"/>
<circle cx="237.5" cy="607.81" r="1.8" fill="none" stroke="#303030" stroke-width="0.6"/>
<circle cx="246.3" cy="607.81" r="1.8" fill="none" stroke="#303030" stroke-width="0.6"/>
<circle cx="247.5" cy="606.31" r="1.8" fill="none" stroke="#303030" stroke-width="0.6"/>
<line x1="227" y1="606.81" x2="238" y2="606.81" stroke="#222" stroke-width="0.8"/>
<line x1="238" y1="605.21" x2="238" y2="608.41" stroke="#222" stroke-width="0.8"/>
<circle cx="268" cy="620.39" r="1.8" fill="none" stroke="#303030" stroke-width="0.6"/>
<circle cx="277" cy="617.89" r="1.8" fill="none" stroke="#303030" stroke-width="0.6"/>
<circle cx="278" cy="623.39" r="1.8" fill="none" stroke="#303030" stroke-width="0.6"/>
<circle cx="287.5" cy="617.89" r="1.8" fill="none" stroke="#303030" stroke-width="0.6"/>
<circle cx="290" cy="617.89" r="1.8" fill="none" stroke="#303030" stroke-width="0.6"/>
<circle cx="289.5" cy="623.39" r="1.8" fill="none" stroke="#303030" stroke-width="0.6"/>
<line x1="282.5" y1="620.39" x2="288" y2="620.39" stroke="#222" stroke-width="0.8"/>
<line x1="288" y1="618.79" x2="288" y2="621.99" stroke="#222" stroke-width="0.8"/>
<circle cx="228" cy="631.97" r="1.8" fill="none" stroke="#303030" stroke-width="0.6"/>
<circle cx="228.8" cy="634.97" r="1.8" fill="none" stroke="#303030" stroke-width="0.6"/>
<circle cx="227.5" cy="636.97" r="1.8" fill="none" stroke="#303030" stroke-width="0.6"/>
<circle cx="231.3" cy="633.97" r="1.8" fill="none" stroke="#303030" stroke-width="0.6"/>
<circle cx="236.3" cy="634.97" r="1.8" fill="none" stroke="#303030" stroke-width="0.6"/>
<circle cx="291.3" cy="645.05" r="1.8" fill="none" stroke="#303030" stroke-width="0.6"/>
<circle cx="287.5" cy="648.05" r="1.8" fill="none" stroke="#303030" stroke-width="0.6"/>
<circle cx="293.8" cy="650.55" r="1.8" fill="none" stroke="#303030" stroke-width="0.6"/>
<circle cx="305" cy="647.55" r="1.8" fill="none" stroke="#303030" stroke-width="0.6"/>
<circle cx="313.8" cy="647.55" r="1.8" fill="none" stroke="#303030" stroke-width="0.6"/>
<circle cx="317.5" cy="647.55" r="1.8" fill="none" stroke="#303030" stroke-width="0.6"/>
<line x1="302" y1="647.55" x2="313.8" y2="647.55" stroke="#222" stroke-width="0.8"/>
<line x1="313.8" y1="645.95" x2="313.8" y2="649.15" stroke="#222" stroke-width="0.8"/>
<circle cx="212.5" cy="661.13" r="1.8" fill="none" stroke="#303030" stroke-width="0.6"/>
<circle cx="215" cy="661.13" r="1.8" fill="none" stroke="#303030" stroke-width="0.6"/>
<circle cx="217.5" cy="661.13" r="1.8" fill="none" stroke="#303030" stroke-width="0.6"/>
<circle cx="220" cy="661.13" r="1.8" fill="none" stroke="#303030" stroke-width="0.6"/>
<circle cx="232.5" cy="661.13" r="1.8" fill="none" stroke="#303030" stroke-width="0.6"/>
<circle cx="246.3" cy="661.13" r="1.8" fill="none" stroke="#303030" stroke-width="0.6"/>
<line x1="222" y1="661.13" x2="236.3" y2="661.13" stroke="#222" stroke-width="0.8"/>
<line x1="236.3" y1="659.53" x2="236.3" y2="662.73" stroke="#222" stroke-width="0.8"/>
<line x1="221.3" y1="566.3" x2="221.3" y2="580" stroke="#8a8a8a" stroke-width="0.7"/>
<line x1="220.1" y1="566.3" x2="222.5" y2="566.3" stroke="#8a8a8a" stroke-width="0.7"/>
<line x1="220.1" y1="580" x2="222.5" y2="580" stroke="#8a8a8a" stroke-width="0.7"/>
<ellipse cx="227.5" cy="567" rx="1.15" ry="0.98" fill="#2a2a2a"/>
<ellipse cx="227.5" cy="570.3" rx="1.15" ry="0.98" fill="#2a2a2a"/>
<ellipse cx="227.5" cy="573.6" rx="1.15" ry="0.98" fill="#2a2a2a"/>
<ellipse cx="227.5" cy="576.9" rx="1.15" ry="0.98" fill="#2a2a2a"/>
<line x1="264.5" y1="579.3" x2="264.5" y2="607.5" stroke="#8a8a8a" stroke-width="0.7"/>
<line x1="263.3" y1="579.3" x2="265.7" y2="579.3" stroke="#8a8a8a" stroke-width="0.7"/>
<line x1="263.3" y1="607.5" x2="265.7" y2="607.5" stroke="#8a8a8a" stroke-width="0.7"/>
<ellipse cx="271.8" cy="579.6" rx="1.15" ry="0.98" fill="#2a2a2a"/>
<ellipse cx="271.8" cy="583.25" rx="1.15" ry="0.98" fill="#2a2a2a"/>
<ellipse cx="271.8" cy="586.9" rx="1.15" ry="0.98" fill="#2a2a2a"/>
<ellipse cx="271.8" cy="590.55" rx="1.15" ry="0.98" fill="#2a2a2a"/>
<ellipse cx="271.8" cy="598.6" rx="1.15" ry="0.98" fill="#2a2a2a"/>
<ellipse cx="271.8" cy="602.1" rx="1.15" ry="0.98" fill="#2a2a2a"/>
<line x1="293" y1="580" x2="293" y2="620.5" stroke="#8a8a8a" stroke-width="0.7"/>
<line x1="291.8" y1="580" x2="294.2" y2="580" stroke="#8a8a8a" stroke-width="0.7"/>
<line x1="291.8" y1="620.5" x2="294.2" y2="620.5" stroke="#8a8a8a" stroke-width="0.7"/>
<ellipse cx="300" cy="593.5" rx="1.15" ry="0.98" fill="#2a2a2a"/>
<ellipse cx="300" cy="597" rx="1.15" ry="0.98" fill="#2a2a2a"/>
<ellipse cx="300" cy="600.5" rx="1.15" ry="0.98" fill="#2a2a2a"/>
<ellipse cx="300" cy="604" rx="1.15" ry="0.98" fill="#2a2a2a"/>
<line x1="298" y1="620.5" x2="298" y2="635.5" stroke="#8a8a8a" stroke-width="0.7"/>
<line x1="296.8" y1="620.5" x2="299.2" y2="620.5" stroke="#8a8a8a" stroke-width="0.7"/>
<line x1="296.8" y1="635.5" x2="299.2" y2="635.5" stroke="#8a8a8a" stroke-width="0.7"/>
<ellipse cx="305.8" cy="621.6" rx="1.15" ry="0.98" fill="#2a2a2a"/>
<ellipse cx="305.8" cy="625.1" rx="1.15" ry="0.98" fill="#2a2a2a"/>
<ellipse cx="305.8" cy="628.6" rx="1.15" ry="0.98" fill="#2a2a2a"/>
<ellipse cx="305.8" cy="632.1" rx="1.15" ry="0.98" fill="#2a2a2a"/>
<line x1="317" y1="617" x2="317" y2="645" stroke="#8a8a8a" stroke-width="0.7"/>
<line x1="315.8" y1="617" x2="318.2" y2="617" stroke="#8a8a8a" stroke-width="0.7"/>
<line x1="315.8" y1="645" x2="318.2" y2="645" stroke="#8a8a8a" stroke-width="0.7"/>
<text x="317.3" y="632.3" font-size="9.3" textLength="7.9" lengthAdjust="spacingAndGlyphs" style="fill:#505050;stroke:#505050;stroke-width:0.02px">ns</text>
<line x1="325" y1="591.3" x2="325" y2="658" stroke="#8a8a8a" stroke-width="0.7"/>
<line x1="323.8" y1="591.3" x2="326.2" y2="591.3" stroke="#8a8a8a" stroke-width="0.7"/>
<line x1="323.8" y1="658" x2="326.2" y2="658" stroke="#8a8a8a" stroke-width="0.7"/>
<text x="327.8" y="627.8" font-size="9.3" textLength="7.9" lengthAdjust="spacingAndGlyphs" style="fill:#505050;stroke:#505050;stroke-width:0.02px">ns</text>
<circle cx="357.3" cy="565.07" r="1.8" fill="none" stroke="#303030" stroke-width="0.5"/>
<circle cx="358.5" cy="566.57" r="1.8" fill="none" stroke="#303030" stroke-width="0.5"/>
<circle cx="357.8" cy="567.87" r="1.8" fill="none" stroke="#303030" stroke-width="0.5"/>
<circle cx="376.3" cy="579.65" r="1.8" fill="none" stroke="#303030" stroke-width="0.6"/>
<circle cx="379.8" cy="578.15" r="1.8" fill="none" stroke="#303030" stroke-width="0.6"/>
<circle cx="383.3" cy="577.15" r="1.8" fill="none" stroke="#303030" stroke-width="0.6"/>
<circle cx="381.5" cy="581.15" r="1.8" fill="none" stroke="#303030" stroke-width="0.6"/>
<circle cx="385" cy="580.65" r="1.8" fill="none" stroke="#303030" stroke-width="0.6"/>
<circle cx="388.5" cy="590.73" r="1.8" fill="none" stroke="#303030" stroke-width="0.6"/>
<circle cx="388.5" cy="595.73" r="1.8" fill="none" stroke="#303030" stroke-width="0.6"/>
<circle cx="393.7" cy="593.23" r="1.8" fill="none" stroke="#303030" stroke-width="0.6"/>
<circle cx="397.1" cy="590.73" r="1.8" fill="none" stroke="#303030" stroke-width="0.6"/>
<circle cx="399.5" cy="595.73" r="1.8" fill="none" stroke="#303030" stroke-width="0.6"/>
<circle cx="401.6" cy="590.73" r="1.8" fill="none" stroke="#303030" stroke-width="0.6"/>
<circle cx="381.5" cy="605.31" r="1.8" fill="none" stroke="#303030" stroke-width="0.6"/>
<circle cx="383.3" cy="608.31" r="1.8" fill="none" stroke="#303030" stroke-width="0.6"/>
<circle cx="386.7" cy="604.81" r="1.8" fill="none" stroke="#303030" stroke-width="0.6"/>
<circle cx="391.9" cy="608.31" r="1.8" fill="none" stroke="#303030" stroke-width="0.6"/>
<circle cx="398.8" cy="606.81" r="1.8" fill="none" stroke="#303030" stroke-width="0.6"/>
<line x1="387.8" y1="606.81" x2="397" y2="606.81" stroke="#222" stroke-width="0.8"/>
<line x1="397" y1="605.21" x2="397" y2="608.41" stroke="#222" stroke-width="0.8"/>
<circle cx="428.3" cy="617.89" r="1.8" fill="none" stroke="#303030" stroke-width="0.6"/>
<circle cx="429.3" cy="622.89" r="1.8" fill="none" stroke="#303030" stroke-width="0.6"/>
<circle cx="433.5" cy="620.39" r="1.8" fill="none" stroke="#303030" stroke-width="0.6"/>
<circle cx="436.2" cy="617.89" r="1.8" fill="none" stroke="#303030" stroke-width="0.6"/>
<circle cx="436.9" cy="622.89" r="1.8" fill="none" stroke="#303030" stroke-width="0.6"/>
<circle cx="442.1" cy="620.39" r="1.8" fill="none" stroke="#303030" stroke-width="0.6"/>
<line x1="434.5" y1="620.39" x2="444" y2="620.39" stroke="#222" stroke-width="0.8"/>
<line x1="444" y1="618.79" x2="444" y2="621.99" stroke="#222" stroke-width="0.8"/>
<circle cx="391.2" cy="631.97" r="1.8" fill="none" stroke="#303030" stroke-width="0.6"/>
<circle cx="389.2" cy="635.97" r="1.8" fill="none" stroke="#303030" stroke-width="0.6"/>
<circle cx="411" cy="633.97" r="1.8" fill="none" stroke="#303030" stroke-width="0.6"/>
<circle cx="414.4" cy="633.97" r="1.8" fill="none" stroke="#303030" stroke-width="0.6"/>
<circle cx="418.9" cy="631.97" r="1.8" fill="none" stroke="#303030" stroke-width="0.6"/>
<circle cx="420.3" cy="635.97" r="1.8" fill="none" stroke="#303030" stroke-width="0.6"/>
<line x1="408.5" y1="633.97" x2="418" y2="633.97" stroke="#222" stroke-width="0.8"/>
<line x1="418" y1="632.37" x2="418" y2="635.57" stroke="#222" stroke-width="0.8"/>
<circle cx="412.7" cy="649.05" r="1.8" fill="none" stroke="#303030" stroke-width="0.6"/>
<circle cx="415.5" cy="646.05" r="1.8" fill="none" stroke="#303030" stroke-width="0.6"/>
<circle cx="447.3" cy="647.55" r="1.8" fill="none" stroke="#303030" stroke-width="0.6"/>
<circle cx="450.8" cy="645.55" r="1.8" fill="none" stroke="#303030" stroke-width="0.6"/>
<circle cx="451.5" cy="650.05" r="1.8" fill="none" stroke="#303030" stroke-width="0.6"/>
<line x1="438.6" y1="647.55" x2="457.7" y2="647.55" stroke="#222" stroke-width="0.8"/>
<line x1="457.7" y1="645.95" x2="457.7" y2="649.15" stroke="#222" stroke-width="0.8"/>
<circle cx="385" cy="658.63" r="1.8" fill="none" stroke="#303030" stroke-width="0.6"/>
<circle cx="385" cy="663.63" r="1.8" fill="none" stroke="#303030" stroke-width="0.6"/>
<circle cx="386.7" cy="661.13" r="1.8" fill="none" stroke="#303030" stroke-width="0.6"/>
<circle cx="399.5" cy="661.13" r="1.8" fill="none" stroke="#303030" stroke-width="0.6"/>
<circle cx="402.3" cy="663.63" r="1.8" fill="none" stroke="#303030" stroke-width="0.6"/>
<line x1="391.9" y1="661.13" x2="400.6" y2="661.13" stroke="#222" stroke-width="0.8"/>
<line x1="400.6" y1="659.53" x2="400.6" y2="662.73" stroke="#222" stroke-width="0.8"/>
<line x1="398.8" y1="565" x2="398.8" y2="580.8" stroke="#8a8a8a" stroke-width="0.7"/>
<line x1="397.6" y1="565" x2="400" y2="565" stroke="#8a8a8a" stroke-width="0.7"/>
<line x1="397.6" y1="580.8" x2="400" y2="580.8" stroke="#8a8a8a" stroke-width="0.7"/>
<ellipse cx="405.8" cy="571.3" rx="1.15" ry="0.98" fill="#2a2a2a"/>
<ellipse cx="405.8" cy="574.5" rx="1.15" ry="0.98" fill="#2a2a2a"/>
<line x1="418.9" y1="579.8" x2="418.9" y2="608.2" stroke="#8a8a8a" stroke-width="0.7"/>
<line x1="417.7" y1="579.8" x2="420.1" y2="579.8" stroke="#8a8a8a" stroke-width="0.7"/>
<line x1="417.7" y1="608.2" x2="420.1" y2="608.2" stroke="#8a8a8a" stroke-width="0.7"/>
<ellipse cx="423" cy="587.8" rx="1.15" ry="0.98" fill="#2a2a2a"/>
<text x="421.3" y="605" font-size="9.3" textLength="7.9" lengthAdjust="spacingAndGlyphs" style="fill:#505050;stroke:#505050;stroke-width:0.02px">ns</text>
<line x1="461.1" y1="578" x2="461.1" y2="634.2" stroke="#8a8a8a" stroke-width="0.7"/>
<line x1="459.9" y1="578" x2="462.3" y2="578" stroke="#8a8a8a" stroke-width="0.7"/>
<line x1="459.9" y1="634.2" x2="462.3" y2="634.2" stroke="#8a8a8a" stroke-width="0.7"/>
<ellipse cx="468.8" cy="590.8" rx="1.15" ry="0.98" fill="#2a2a2a"/>
<ellipse cx="468.8" cy="594.3" rx="1.15" ry="0.98" fill="#2a2a2a"/>
<ellipse cx="468.8" cy="597.8" rx="1.15" ry="0.98" fill="#2a2a2a"/>
<ellipse cx="468.8" cy="601.3" rx="1.15" ry="0.98" fill="#2a2a2a"/>
<ellipse cx="468.8" cy="625" rx="1.15" ry="0.98" fill="#2a2a2a"/>
<ellipse cx="468.8" cy="628.5" rx="1.15" ry="0.98" fill="#2a2a2a"/>
<ellipse cx="468.8" cy="632" rx="1.15" ry="0.98" fill="#2a2a2a"/>
<line x1="474.3" y1="593.6" x2="474.3" y2="662.9" stroke="#8a8a8a" stroke-width="0.7"/>
<line x1="473.1" y1="593.6" x2="475.5" y2="593.6" stroke="#8a8a8a" stroke-width="0.7"/>
<line x1="473.1" y1="662.9" x2="475.5" y2="662.9" stroke="#8a8a8a" stroke-width="0.7"/>
<text x="475.6" y="631" font-size="9.3" textLength="7.9" lengthAdjust="spacingAndGlyphs" style="fill:#505050;stroke:#505050;stroke-width:0.02px">ns</text>
<line x1="483.6" y1="622" x2="483.6" y2="650" stroke="#8a8a8a" stroke-width="0.7"/>
<line x1="482.4" y1="622" x2="484.8" y2="622" stroke="#8a8a8a" stroke-width="0.7"/>
<line x1="482.4" y1="650" x2="484.8" y2="650" stroke="#8a8a8a" stroke-width="0.7"/>
<text x="485.2" y="636.2" font-size="9.3" textLength="7.9" lengthAdjust="spacingAndGlyphs" style="fill:#505050;stroke:#505050;stroke-width:0.02px">ns</text>
<rect x="0" y="0" width="520" height="1" fill="#000"/>
<rect x="0" y="0" width="1.2" height="717" fill="#000"/>
<rect x="518.5" y="0" width="1.5" height="717" fill="#000"/>
<rect x="0" y="715.4" width="520" height="1.6" fill="#000"/>
</svg></body></html>
